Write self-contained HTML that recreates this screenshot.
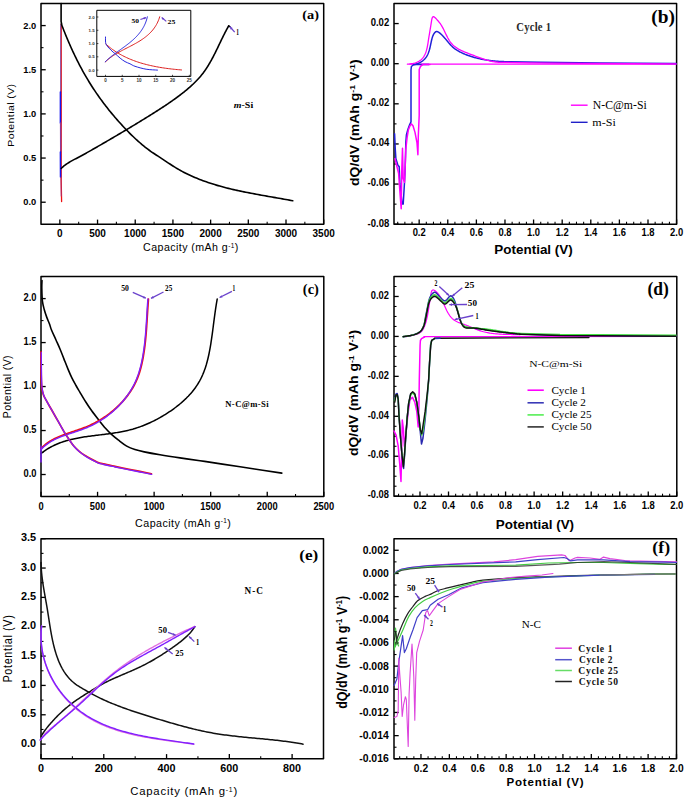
<!DOCTYPE html>
<html><head><meta charset="utf-8"><style>
html,body{margin:0;padding:0;background:#fff;}
svg{display:block;}
</style></head><body>
<svg width="685" height="798" viewBox="0 0 685 798">
<rect width="685" height="798" fill="#fff"/>
<rect x="41" y="3.5" width="282.7" height="220.8" fill="none" stroke="#000" stroke-width="1.5" stroke-linejoin="round"/>
<line x1="78.69" y1="224.3" x2="78.69" y2="221.8" stroke="#000" stroke-width="1.08"/>
<line x1="116.39" y1="224.3" x2="116.39" y2="221.8" stroke="#000" stroke-width="1.08"/>
<line x1="154.08" y1="224.3" x2="154.08" y2="221.8" stroke="#000" stroke-width="1.08"/>
<line x1="191.77" y1="224.3" x2="191.77" y2="221.8" stroke="#000" stroke-width="1.08"/>
<line x1="229.47" y1="224.3" x2="229.47" y2="221.8" stroke="#000" stroke-width="1.08"/>
<line x1="267.16" y1="224.3" x2="267.16" y2="221.8" stroke="#000" stroke-width="1.08"/>
<line x1="304.85" y1="224.3" x2="304.85" y2="221.8" stroke="#000" stroke-width="1.08"/>
<line x1="41" y1="180.14" x2="43.5" y2="180.14" stroke="#000" stroke-width="1.08"/>
<line x1="41" y1="135.98" x2="43.5" y2="135.98" stroke="#000" stroke-width="1.08"/>
<line x1="41" y1="91.82" x2="43.5" y2="91.82" stroke="#000" stroke-width="1.08"/>
<line x1="41" y1="47.66" x2="43.5" y2="47.66" stroke="#000" stroke-width="1.08"/>
<line x1="41" y1="3.5" x2="43.5" y2="3.5" stroke="#000" stroke-width="1.08"/>
<line x1="59.85" y1="224.3" x2="59.85" y2="219.6" stroke="#000" stroke-width="1.32"/>
<text x="59.85" y="233.2" font-family="'Liberation Sans', sans-serif" font-size="10" font-weight="bold" text-anchor="middle" dominant-baseline="central" fill="#000">0</text>
<line x1="97.54" y1="224.3" x2="97.54" y2="219.6" stroke="#000" stroke-width="1.32"/>
<text x="97.54" y="233.2" font-family="'Liberation Sans', sans-serif" font-size="10" font-weight="bold" text-anchor="middle" dominant-baseline="central" fill="#000">500</text>
<line x1="135.23" y1="224.3" x2="135.23" y2="219.6" stroke="#000" stroke-width="1.32"/>
<text x="135.23" y="233.2" font-family="'Liberation Sans', sans-serif" font-size="10" font-weight="bold" text-anchor="middle" dominant-baseline="central" fill="#000">1000</text>
<line x1="172.93" y1="224.3" x2="172.93" y2="219.6" stroke="#000" stroke-width="1.32"/>
<text x="172.93" y="233.2" font-family="'Liberation Sans', sans-serif" font-size="10" font-weight="bold" text-anchor="middle" dominant-baseline="central" fill="#000">1500</text>
<line x1="210.62" y1="224.3" x2="210.62" y2="219.6" stroke="#000" stroke-width="1.32"/>
<text x="210.62" y="233.2" font-family="'Liberation Sans', sans-serif" font-size="10" font-weight="bold" text-anchor="middle" dominant-baseline="central" fill="#000">2000</text>
<line x1="248.31" y1="224.3" x2="248.31" y2="219.6" stroke="#000" stroke-width="1.32"/>
<text x="248.31" y="233.2" font-family="'Liberation Sans', sans-serif" font-size="10" font-weight="bold" text-anchor="middle" dominant-baseline="central" fill="#000">2500</text>
<line x1="286.01" y1="224.3" x2="286.01" y2="219.6" stroke="#000" stroke-width="1.32"/>
<text x="286.01" y="233.2" font-family="'Liberation Sans', sans-serif" font-size="10" font-weight="bold" text-anchor="middle" dominant-baseline="central" fill="#000">3000</text>
<line x1="323.7" y1="224.3" x2="323.7" y2="219.6" stroke="#000" stroke-width="1.32"/>
<text x="323.7" y="233.2" font-family="'Liberation Sans', sans-serif" font-size="10" font-weight="bold" text-anchor="middle" dominant-baseline="central" fill="#000">3500</text>
<line x1="41" y1="202.22" x2="45.7" y2="202.22" stroke="#000" stroke-width="1.32"/>
<line x1="41" y1="158.06" x2="45.7" y2="158.06" stroke="#000" stroke-width="1.32"/>
<line x1="41" y1="113.9" x2="45.7" y2="113.9" stroke="#000" stroke-width="1.32"/>
<line x1="41" y1="69.74" x2="45.7" y2="69.74" stroke="#000" stroke-width="1.32"/>
<line x1="41" y1="25.58" x2="45.7" y2="25.58" stroke="#000" stroke-width="1.32"/>
<text x="36.2" y="201.92" font-family="'Liberation Sans', sans-serif" font-size="9.6" font-weight="bold" text-anchor="end" dominant-baseline="central" fill="#000" transform="translate(36.2 201.92) scale(0.97 1) translate(-36.2 -201.92)">0.0</text>
<text x="36.2" y="157.76" font-family="'Liberation Sans', sans-serif" font-size="9.6" font-weight="bold" text-anchor="end" dominant-baseline="central" fill="#000" transform="translate(36.2 157.76) scale(0.97 1) translate(-36.2 -157.76)">0.5</text>
<text x="36.2" y="113.6" font-family="'Liberation Sans', sans-serif" font-size="9.6" font-weight="bold" text-anchor="end" dominant-baseline="central" fill="#000" transform="translate(36.2 113.6) scale(0.97 1) translate(-36.2 -113.6)">1.0</text>
<text x="36.2" y="69.44" font-family="'Liberation Sans', sans-serif" font-size="9.6" font-weight="bold" text-anchor="end" dominant-baseline="central" fill="#000" transform="translate(36.2 69.44) scale(0.97 1) translate(-36.2 -69.44)">1.5</text>
<text x="36.2" y="25.28" font-family="'Liberation Sans', sans-serif" font-size="9.6" font-weight="bold" text-anchor="end" dominant-baseline="central" fill="#000" transform="translate(36.2 25.28) scale(0.97 1) translate(-36.2 -25.28)">2.0</text>
<text transform="translate(143.07 251.3) scale(0.9726 1)" font-family="'Liberation Sans', sans-serif" font-size="10.957" font-weight="normal" font-style="normal" fill="#000" letter-spacing="0.04em">Capacity (mAh g<tspan font-size="60%" dy="-0.5em">-1</tspan><tspan dy="0.3em">)</tspan></text>
<text transform="translate(13.96 146.64) rotate(-90) scale(1.1341 1)" font-family="'Liberation Sans', sans-serif" font-size="9.255" font-weight="normal" font-style="normal" fill="#000" letter-spacing="0.04em">Potential (V)</text>
<text transform="translate(302.23 19.32) scale(1.0854 1)" font-family="'Liberation Serif', serif" font-size="13.222" font-weight="bold" font-style="normal" fill="#000">(a)</text>
<text transform="translate(233.8 107.52) scale(1.1036 1)" font-family="'Liberation Serif', serif" font-size="9.014" font-weight="bold" font-style="normal" fill="#000"><tspan font-style="italic">m</tspan>-Si</text>
<path d="M61.2 24.5 L61.2 120 L61.2 180 L61.6 201.6" stroke="#ee1111" stroke-width="1.3" fill="none" stroke-linejoin="round" stroke-linecap="round"/>
<path d="M60.7 25 L60.7 92" stroke="#5a3ab0" stroke-width="1" fill="none" stroke-linejoin="round" stroke-linecap="round" stroke-opacity="0.75"/>
<path d="M60.4 92 L60.4 123" stroke="#1818f0" stroke-width="1.5" fill="none" stroke-linejoin="round" stroke-linecap="round"/>
<path d="M60.6 123 L60.7 152" stroke="#8a3a9a" stroke-width="1.4" fill="none" stroke-linejoin="round" stroke-linecap="round"/>
<path d="M60.4 152 L60.5 177" stroke="#1818f0" stroke-width="1.5" fill="none" stroke-linejoin="round" stroke-linecap="round"/>
<path d="M60.9 177 L61.2 196" stroke="#9a3a8a" stroke-width="1" fill="none" stroke-linejoin="round" stroke-linecap="round" stroke-opacity="0.8"/>
<path d="M61.1 3.5 L61.1 21.4 L61.6 24" stroke="#000" stroke-width="1.6" fill="none" stroke-linejoin="round" stroke-linecap="round"/>
<path d="M61.39 24.08 L62.02 25.73 L62.66 27.38 L63.3 29.03 L63.95 30.67 L64.61 32.31 L65.27 33.95 L65.94 35.59 L66.62 37.23 L67.3 38.86 L67.99 40.49 L68.69 42.12 L69.4 43.74 L70.11 45.36 L70.83 46.98 L71.56 48.6 L72.29 50.21 L73.04 51.81 L73.79 53.42 L74.55 55.02 L75.32 56.61 L76.09 58.2 L76.88 59.79 L77.67 61.37 L78.48 62.95 L79.29 64.52 L80.11 66.09 L80.94 67.65 L81.78 69.21 L82.63 70.76 L83.49 72.31 L84.35 73.85 L85.23 75.39 L86.12 76.92 L87.02 78.45 L87.93 79.96 L88.84 81.48 L89.77 82.98 L90.71 84.48 L91.66 85.98 L92.62 87.46 L93.59 88.94 L94.56 90.42 L95.55 91.89 L96.55 93.35 L97.56 94.8 L98.57 96.25 L99.6 97.7 L100.63 99.13 L101.68 100.56 L102.73 101.98 L103.79 103.4 L104.87 104.81 L105.95 106.21 L107.04 107.61 L108.13 109 L109.24 110.38 L110.36 111.76 L111.48 113.13 L112.61 114.49 L113.75 115.84 L114.9 117.19 L116.06 118.53 L117.23 119.87 L118.4 121.19 L119.58 122.51 L120.77 123.83 L121.97 125.13 L123.17 126.43 L124.38 127.72 L125.6 129.01 L126.83 130.29 L128.07 131.56 L129.31 132.82 L130.56 134.07 L131.82 135.31 L133.09 136.54 L134.37 137.76 L135.66 138.97 L136.97 140.17 L138.28 141.35 L139.6 142.52 L140.94 143.68 L142.29 144.81 L143.65 145.94 L145.03 147.04 L146.42 148.13 L147.82 149.2 L149.24 150.25 L150.67 151.28 L152.12 152.29 L153.59 153.28 L155.07 154.25 L156.56 155.22 L158.05 156.18 L159.54 157.14 L161.03 158.11 L162.52 159.1 L164 160.08 L165.48 161.08 L166.96 162.07 L168.45 163.06 L169.93 164.04 L171.43 165.01 L172.92 165.97 L174.43 166.92 L175.94 167.84 L177.46 168.75 L178.99 169.63 L180.53 170.5 L182.09 171.34 L183.64 172.17 L185.21 172.97 L186.79 173.76 L188.37 174.53 L189.96 175.28 L191.56 176.01 L193.17 176.73 L194.79 177.43 L196.41 178.11 L198.04 178.77 L199.68 179.42 L201.32 180.05 L202.97 180.67 L204.63 181.27 L206.29 181.86 L207.96 182.44 L209.63 183 L211.31 183.54 L212.99 184.08 L214.68 184.6 L216.38 185.11 L218.08 185.61 L219.78 186.09 L221.49 186.56 L223.2 187.03 L224.92 187.48 L226.64 187.92 L228.36 188.36 L230.09 188.78 L231.82 189.19 L233.55 189.6 L235.28 189.99 L237.02 190.38 L238.76 190.76 L240.5 191.14 L242.25 191.5 L243.99 191.86 L245.74 192.22 L247.49 192.57 L249.24 192.91 L250.99 193.25 L252.74 193.58 L254.49 193.91 L256.24 194.23 L258 194.55 L259.75 194.87 L261.5 195.19 L263.25 195.5 L265 195.81 L266.75 196.12 L268.5 196.42 L270.25 196.73 L271.99 197.03 L273.74 197.34 L275.48 197.64 L277.22 197.95 L278.96 198.25 L280.7 198.56 L282.43 198.87 L284.16 199.18 L285.89 199.49 L287.61 199.8 L289.33 200.12 L291.05 200.44 L292.76 200.76" stroke="#000" stroke-width="1.6" fill="none" stroke-linejoin="round" stroke-linecap="round"/>
<path d="M61.18 168.48 L61.91 167.75 L62.67 167.05 L63.45 166.37 L64.25 165.72 L65.07 165.09 L65.9 164.48 L66.75 163.89 L67.62 163.32 L68.5 162.76 L69.38 162.22 L70.28 161.68 L71.19 161.16 L72.11 160.65 L73.03 160.15 L73.96 159.65 L74.89 159.16 L75.83 158.67 L76.77 158.18 L77.7 157.69 L78.63 157.19 L79.57 156.7 L80.5 156.2 L81.43 155.7 L82.35 155.2 L83.28 154.7 L84.2 154.19 L85.12 153.68 L86.04 153.18 L86.96 152.66 L87.88 152.15 L88.8 151.64 L89.72 151.12 L90.63 150.6 L91.54 150.09 L92.46 149.57 L93.37 149.05 L94.28 148.52 L95.19 148 L96.1 147.48 L97.01 146.95 L97.92 146.43 L98.83 145.9 L99.74 145.38 L100.65 144.85 L101.56 144.33 L102.47 143.8 L103.37 143.27 L104.28 142.75 L105.19 142.22 L106.1 141.69 L107 141.16 L107.91 140.64 L108.82 140.11 L109.72 139.58 L110.63 139.05 L111.54 138.52 L112.44 137.99 L113.35 137.46 L114.25 136.93 L115.16 136.39 L116.06 135.86 L116.97 135.33 L117.87 134.8 L118.78 134.26 L119.68 133.73 L120.58 133.19 L121.49 132.66 L122.39 132.12 L123.29 131.59 L124.19 131.05 L125.09 130.51 L126 129.98 L126.9 129.44 L127.8 128.9 L128.7 128.36 L129.6 127.82 L130.5 127.28 L131.4 126.74 L132.3 126.19 L133.2 125.65 L134.09 125.11 L134.99 124.56 L135.89 124.02 L136.79 123.47 L137.68 122.93 L138.58 122.38 L139.48 121.83 L140.37 121.29 L141.27 120.74 L142.16 120.19 L143.06 119.64 L143.95 119.08 L144.85 118.53 L145.74 117.98 L146.63 117.43 L147.52 116.87 L148.42 116.32 L149.31 115.76 L150.2 115.2 L151.09 114.65 L151.98 114.09 L152.87 113.53 L153.76 112.97 L154.65 112.41 L155.54 111.84 L156.42 111.28 L157.31 110.71 L158.2 110.15 L159.08 109.58 L159.96 109.01 L160.85 108.44 L161.73 107.87 L162.61 107.29 L163.49 106.71 L164.36 106.14 L165.24 105.55 L166.11 104.97 L166.99 104.38 L167.86 103.8 L168.73 103.2 L169.59 102.61 L170.46 102.01 L171.32 101.41 L172.18 100.81 L173.04 100.21 L173.89 99.6 L174.75 98.99 L175.6 98.37 L176.45 97.75 L177.29 97.13 L178.14 96.5 L178.98 95.87 L179.81 95.24 L180.65 94.6 L181.48 93.96 L182.31 93.31 L183.13 92.66 L183.96 92.01 L184.77 91.35 L185.59 90.68 L186.4 90.02 L187.21 89.34 L188.01 88.66 L188.81 87.98 L189.6 87.29 L190.39 86.59 L191.17 85.89 L191.94 85.19 L192.71 84.47 L193.47 83.75 L194.23 83.02 L194.98 82.29 L195.71 81.55 L196.45 80.8 L197.17 80.05 L197.88 79.28 L198.59 78.51 L199.28 77.74 L199.97 76.95 L200.64 76.15 L201.31 75.35 L201.96 74.54 L202.6 73.72 L203.24 72.89 L203.86 72.05 L204.47 71.21 L205.07 70.35 L205.66 69.49 L206.25 68.62 L206.82 67.75 L207.39 66.87 L207.94 65.98 L208.49 65.09 L209.03 64.19 L209.57 63.28 L210.1 62.37 L210.62 61.46 L211.13 60.54 L211.64 59.61 L212.14 58.68 L212.64 57.75 L213.13 56.82 L213.62 55.88 L214.1 54.94 L214.58 53.99 L215.06 53.05 L215.53 52.1 L216 51.15 L216.47 50.2 L216.93 49.24 L217.4 48.29 L217.86 47.34 L218.31 46.38 L218.77 45.43 L219.23 44.47 L219.69 43.52 L220.14 42.56 L220.6 41.61 L221.06 40.66 L221.51 39.71 L221.97 38.76 L222.43 37.82 L222.9 36.87 L223.36 35.93 L223.83 35 L224.3 34.06 L224.77 33.13 L225.24 32.21 L225.72 31.28 L226.21 30.37 L226.7 29.45 L227.19 28.55 L227.69 27.64 L228.19 26.75 L228.7 25.86" stroke="#000" stroke-width="1.6" fill="none" stroke-linejoin="round" stroke-linecap="round"/>
<path d="M228.7 25.8 L230.3 27" stroke="#000" stroke-width="1.3" fill="none" stroke-linejoin="round" stroke-linecap="round"/>
<line x1="234.7" y1="32.1" x2="229.9" y2="26.8" stroke="#6a42cc" stroke-width="1.3"/>
<path d="M229.9 26.8 L232.68 27.93 L230.75 29.68Z" fill="#6a42cc"/>
<text transform="translate(236.17 34.6) scale(0.7281 1)" font-family="'Liberation Serif', serif" font-size="7.424" font-weight="bold" font-style="normal" fill="#000">1</text>
<rect x="96.8" y="10.3" width="94" height="66.1" fill="none" stroke="#000" stroke-width="1" stroke-linejoin="round"/>
<line x1="105.5" y1="76.4" x2="105.5" y2="74.8" stroke="#000" stroke-width="0.7"/>
<text x="105.5" y="80.2" font-family="'Liberation Sans', sans-serif" font-size="4.6" font-weight="bold" text-anchor="middle" dominant-baseline="central" fill="#333">0</text>
<line x1="122.26" y1="76.4" x2="122.26" y2="74.8" stroke="#000" stroke-width="0.7"/>
<text x="122.26" y="80.2" font-family="'Liberation Sans', sans-serif" font-size="4.6" font-weight="bold" text-anchor="middle" dominant-baseline="central" fill="#333">5</text>
<line x1="139.02" y1="76.4" x2="139.02" y2="74.8" stroke="#000" stroke-width="0.7"/>
<text x="139.02" y="80.2" font-family="'Liberation Sans', sans-serif" font-size="4.6" font-weight="bold" text-anchor="middle" dominant-baseline="central" fill="#333">10</text>
<line x1="155.78" y1="76.4" x2="155.78" y2="74.8" stroke="#000" stroke-width="0.7"/>
<text x="155.78" y="80.2" font-family="'Liberation Sans', sans-serif" font-size="4.6" font-weight="bold" text-anchor="middle" dominant-baseline="central" fill="#333">15</text>
<line x1="172.54" y1="76.4" x2="172.54" y2="74.8" stroke="#000" stroke-width="0.7"/>
<text x="172.54" y="80.2" font-family="'Liberation Sans', sans-serif" font-size="4.6" font-weight="bold" text-anchor="middle" dominant-baseline="central" fill="#333">20</text>
<line x1="189.3" y1="76.4" x2="189.3" y2="74.8" stroke="#000" stroke-width="0.7"/>
<text x="189.3" y="80.2" font-family="'Liberation Sans', sans-serif" font-size="4.6" font-weight="bold" text-anchor="middle" dominant-baseline="central" fill="#333">25</text>
<line x1="96.8" y1="70.1" x2="98.4" y2="70.1" stroke="#000" stroke-width="0.7"/>
<text x="94.6" y="70.1" font-family="'Liberation Sans', sans-serif" font-size="4.4" font-weight="bold" text-anchor="end" dominant-baseline="central" fill="#333">0.0</text>
<line x1="96.8" y1="56.82" x2="98.4" y2="56.82" stroke="#000" stroke-width="0.7"/>
<text x="94.6" y="56.82" font-family="'Liberation Sans', sans-serif" font-size="4.4" font-weight="bold" text-anchor="end" dominant-baseline="central" fill="#333">0.5</text>
<line x1="96.8" y1="43.55" x2="98.4" y2="43.55" stroke="#000" stroke-width="0.7"/>
<text x="94.6" y="43.55" font-family="'Liberation Sans', sans-serif" font-size="4.4" font-weight="bold" text-anchor="end" dominant-baseline="central" fill="#333">1.0</text>
<line x1="96.8" y1="30.27" x2="98.4" y2="30.27" stroke="#000" stroke-width="0.7"/>
<text x="94.6" y="30.27" font-family="'Liberation Sans', sans-serif" font-size="4.4" font-weight="bold" text-anchor="end" dominant-baseline="central" fill="#333">1.5</text>
<line x1="96.8" y1="17" x2="98.4" y2="17" stroke="#000" stroke-width="0.7"/>
<text x="94.6" y="17" font-family="'Liberation Sans', sans-serif" font-size="4.4" font-weight="bold" text-anchor="end" dominant-baseline="central" fill="#333">2.0</text>
<path d="M105.71 43.9 L106.82 44.9 L107.96 45.88 L109.11 46.83 L110.27 47.76 L111.45 48.66 L112.65 49.54 L113.86 50.39 L115.09 51.22 L116.33 52.03 L117.58 52.81 L118.85 53.57 L120.13 54.3 L121.42 55.02 L122.73 55.71 L124.04 56.38 L125.37 57.03 L126.71 57.66 L128.06 58.27 L129.41 58.86 L130.78 59.43 L132.16 59.98 L133.55 60.52 L134.94 61.03 L136.34 61.52 L137.75 62 L139.17 62.46 L140.59 62.91 L142.02 63.33 L143.46 63.74 L144.9 64.14 L146.35 64.52 L147.8 64.88 L149.25 65.23 L150.71 65.57 L152.18 65.89 L153.64 66.2 L155.11 66.49 L156.58 66.78 L158.06 67.04 L159.53 67.3 L161.01 67.55 L162.48 67.78 L163.96 68 L165.43 68.22 L166.91 68.42 L168.39 68.61 L169.86 68.79 L171.33 68.97 L172.8 69.13 L174.27 69.29 L175.73 69.44 L177.19 69.58 L178.65 69.71 L180.1 69.84 L181.55 69.96" stroke="#dd2020" stroke-width="1" fill="none" stroke-linejoin="round" stroke-linecap="round"/>
<path d="M105.38 61.93 L106.3 61.04 L107.25 60.18 L108.22 59.34 L109.22 58.54 L110.24 57.75 L111.28 56.99 L112.33 56.25 L113.41 55.53 L114.5 54.82 L115.61 54.13 L116.73 53.46 L117.87 52.8 L119.01 52.15 L120.17 51.52 L121.33 50.89 L122.51 50.27 L123.68 49.65 L124.86 49.04 L126.05 48.43 L127.23 47.82 L128.42 47.22 L129.61 46.61 L130.79 45.99 L131.97 45.38 L133.14 44.75 L134.31 44.12 L135.47 43.48 L136.62 42.83 L137.76 42.17 L138.89 41.49 L140.01 40.8 L141.11 40.1 L142.19 39.37 L143.26 38.63 L144.31 37.87 L145.35 37.09 L146.36 36.28 L147.35 35.46 L148.32 34.61 L149.26 33.73 L150.18 32.83 L151.07 31.9 L151.94 30.94 L152.77 29.95 L153.58 28.93 L154.35 27.88 L155.09 26.79 L155.8 25.67 L156.47 24.52 L157.11 23.32 L157.71 22.09 L158.27 20.82 L158.79 19.51 L159.26 18.16 L159.7 16.76" stroke="#dd2020" stroke-width="1" fill="none" stroke-linejoin="round" stroke-linecap="round"/>
<path d="M105.5 37 C105.5 37.67 105.45 39.95 105.5 41 C105.55 42.05 105.55 42.5 105.8 43.3 C106.05 44.1 106.47 45 107 45.8 C107.53 46.6 107.98 47.05 109 48.1 C110.02 49.15 112 51.12 113.1 52.1 C114.2 53.08 114.43 53 115.6 54 C116.77 55 118.53 56.83 120.1 58.1 C121.67 59.37 123.35 60.65 125 61.6 C126.65 62.55 128.33 63.02 130 63.8 C131.67 64.58 132.32 65.4 135 66.3 C137.68 67.2 142.35 68.57 146.1 69.2 C149.85 69.83 155.6 69.95 157.5 70.1" stroke="#2828dd" stroke-width="1" fill="none" stroke-linejoin="round" stroke-linecap="round"/>
<path d="M105.18 61.85 L105.86 61.17 L106.56 60.51 L107.27 59.85 L107.99 59.2 L108.72 58.56 L109.46 57.92 L110.22 57.3 L110.98 56.67 L111.75 56.06 L112.53 55.45 L113.32 54.84 L114.11 54.24 L114.91 53.64 L115.71 53.04 L116.52 52.44 L117.33 51.85 L118.15 51.26 L118.97 50.67 L119.79 50.08 L120.61 49.49 L121.43 48.9 L122.25 48.31 L123.07 47.71 L123.89 47.12 L124.71 46.52 L125.52 45.91 L126.33 45.31 L127.13 44.69 L127.93 44.08 L128.73 43.46 L129.51 42.83 L130.29 42.19 L131.06 41.55 L131.83 40.9 L132.58 40.25 L133.32 39.58 L134.06 38.9 L134.78 38.22 L135.49 37.53 L136.18 36.82 L136.86 36.1 L137.53 35.38 L138.19 34.64 L138.83 33.89 L139.45 33.12 L140.06 32.35 L140.65 31.56 L141.23 30.75 L141.78 29.94 L142.32 29.11 L142.84 28.26 L143.33 27.4 L143.81 26.52 L144.27 25.63 L144.7 24.72 L145.12 23.8 L145.51 22.85 L145.87 21.89 L146.22 20.91 L146.54 19.92 L146.83 18.9 L147.1 17.87 L147.34 16.81" stroke="#2828dd" stroke-width="1" fill="none" stroke-linejoin="round" stroke-linecap="round"/>
<text transform="translate(131.5 23.06) scale(1.0924 1)" font-family="'Liberation Serif', serif" font-size="6.866" font-weight="bold" font-style="normal" fill="#000">50</text>
<text transform="translate(167.49 23.73) scale(1.1229 1)" font-family="'Liberation Serif', serif" font-size="6.970" font-weight="bold" font-style="normal" fill="#000">25</text>
<line x1="140.4" y1="19.5" x2="146.1" y2="17.6" stroke="#6a42cc" stroke-width="1.2"/>
<path d="M146.1 17.6 L144.24 19.41 L143.52 17.27Z" fill="#6a42cc"/>
<line x1="166.3" y1="21.4" x2="161.7" y2="17.5" stroke="#6a42cc" stroke-width="1.2"/>
<path d="M161.7 17.5 L164.22 18.15 L162.75 19.88Z" fill="#6a42cc"/>
<rect x="394" y="3.5" width="282.6" height="220.7" fill="none" stroke="#000" stroke-width="1.5" stroke-linejoin="round"/>
<line x1="397.72" y1="224.2" x2="397.72" y2="221.7" stroke="#000" stroke-width="1.08"/>
<line x1="404.87" y1="224.2" x2="404.87" y2="221.7" stroke="#000" stroke-width="1.08"/>
<line x1="412.02" y1="224.2" x2="412.02" y2="221.7" stroke="#000" stroke-width="1.08"/>
<line x1="426.32" y1="224.2" x2="426.32" y2="221.7" stroke="#000" stroke-width="1.08"/>
<line x1="433.47" y1="224.2" x2="433.47" y2="221.7" stroke="#000" stroke-width="1.08"/>
<line x1="440.62" y1="224.2" x2="440.62" y2="221.7" stroke="#000" stroke-width="1.08"/>
<line x1="454.92" y1="224.2" x2="454.92" y2="221.7" stroke="#000" stroke-width="1.08"/>
<line x1="462.08" y1="224.2" x2="462.08" y2="221.7" stroke="#000" stroke-width="1.08"/>
<line x1="469.23" y1="224.2" x2="469.23" y2="221.7" stroke="#000" stroke-width="1.08"/>
<line x1="483.53" y1="224.2" x2="483.53" y2="221.7" stroke="#000" stroke-width="1.08"/>
<line x1="490.68" y1="224.2" x2="490.68" y2="221.7" stroke="#000" stroke-width="1.08"/>
<line x1="497.83" y1="224.2" x2="497.83" y2="221.7" stroke="#000" stroke-width="1.08"/>
<line x1="512.13" y1="224.2" x2="512.13" y2="221.7" stroke="#000" stroke-width="1.08"/>
<line x1="519.28" y1="224.2" x2="519.28" y2="221.7" stroke="#000" stroke-width="1.08"/>
<line x1="526.43" y1="224.2" x2="526.43" y2="221.7" stroke="#000" stroke-width="1.08"/>
<line x1="540.73" y1="224.2" x2="540.73" y2="221.7" stroke="#000" stroke-width="1.08"/>
<line x1="547.89" y1="224.2" x2="547.89" y2="221.7" stroke="#000" stroke-width="1.08"/>
<line x1="555.04" y1="224.2" x2="555.04" y2="221.7" stroke="#000" stroke-width="1.08"/>
<line x1="569.34" y1="224.2" x2="569.34" y2="221.7" stroke="#000" stroke-width="1.08"/>
<line x1="576.49" y1="224.2" x2="576.49" y2="221.7" stroke="#000" stroke-width="1.08"/>
<line x1="583.64" y1="224.2" x2="583.64" y2="221.7" stroke="#000" stroke-width="1.08"/>
<line x1="597.94" y1="224.2" x2="597.94" y2="221.7" stroke="#000" stroke-width="1.08"/>
<line x1="605.09" y1="224.2" x2="605.09" y2="221.7" stroke="#000" stroke-width="1.08"/>
<line x1="612.24" y1="224.2" x2="612.24" y2="221.7" stroke="#000" stroke-width="1.08"/>
<line x1="626.54" y1="224.2" x2="626.54" y2="221.7" stroke="#000" stroke-width="1.08"/>
<line x1="633.7" y1="224.2" x2="633.7" y2="221.7" stroke="#000" stroke-width="1.08"/>
<line x1="640.85" y1="224.2" x2="640.85" y2="221.7" stroke="#000" stroke-width="1.08"/>
<line x1="655.15" y1="224.2" x2="655.15" y2="221.7" stroke="#000" stroke-width="1.08"/>
<line x1="662.3" y1="224.2" x2="662.3" y2="221.7" stroke="#000" stroke-width="1.08"/>
<line x1="669.45" y1="224.2" x2="669.45" y2="221.7" stroke="#000" stroke-width="1.08"/>
<line x1="394" y1="204.14" x2="396.5" y2="204.14" stroke="#000" stroke-width="1.08"/>
<line x1="394" y1="164.01" x2="396.5" y2="164.01" stroke="#000" stroke-width="1.08"/>
<line x1="394" y1="123.88" x2="396.5" y2="123.88" stroke="#000" stroke-width="1.08"/>
<line x1="394" y1="83.75" x2="396.5" y2="83.75" stroke="#000" stroke-width="1.08"/>
<line x1="394" y1="43.63" x2="396.5" y2="43.63" stroke="#000" stroke-width="1.08"/>
<line x1="419.17" y1="224.2" x2="419.17" y2="219.5" stroke="#000" stroke-width="1.32"/>
<text x="419.17" y="232.6" font-family="'Liberation Sans', sans-serif" font-size="10.8" font-weight="bold" text-anchor="middle" dominant-baseline="central" fill="#000" transform="translate(419.17 232.6) scale(0.87 1) translate(-419.17 -232.6)">0.2</text>
<line x1="447.77" y1="224.2" x2="447.77" y2="219.5" stroke="#000" stroke-width="1.32"/>
<text x="447.77" y="232.6" font-family="'Liberation Sans', sans-serif" font-size="10.8" font-weight="bold" text-anchor="middle" dominant-baseline="central" fill="#000" transform="translate(447.77 232.6) scale(0.87 1) translate(-447.77 -232.6)">0.4</text>
<line x1="476.38" y1="224.2" x2="476.38" y2="219.5" stroke="#000" stroke-width="1.32"/>
<text x="476.38" y="232.6" font-family="'Liberation Sans', sans-serif" font-size="10.8" font-weight="bold" text-anchor="middle" dominant-baseline="central" fill="#000" transform="translate(476.38 232.6) scale(0.87 1) translate(-476.38 -232.6)">0.6</text>
<line x1="504.98" y1="224.2" x2="504.98" y2="219.5" stroke="#000" stroke-width="1.32"/>
<text x="504.98" y="232.6" font-family="'Liberation Sans', sans-serif" font-size="10.8" font-weight="bold" text-anchor="middle" dominant-baseline="central" fill="#000" transform="translate(504.98 232.6) scale(0.87 1) translate(-504.98 -232.6)">0.8</text>
<line x1="533.58" y1="224.2" x2="533.58" y2="219.5" stroke="#000" stroke-width="1.32"/>
<text x="533.58" y="232.6" font-family="'Liberation Sans', sans-serif" font-size="10.8" font-weight="bold" text-anchor="middle" dominant-baseline="central" fill="#000" transform="translate(533.58 232.6) scale(0.87 1) translate(-533.58 -232.6)">1.0</text>
<line x1="562.19" y1="224.2" x2="562.19" y2="219.5" stroke="#000" stroke-width="1.32"/>
<text x="562.19" y="232.6" font-family="'Liberation Sans', sans-serif" font-size="10.8" font-weight="bold" text-anchor="middle" dominant-baseline="central" fill="#000" transform="translate(562.19 232.6) scale(0.87 1) translate(-562.19 -232.6)">1.2</text>
<line x1="590.79" y1="224.2" x2="590.79" y2="219.5" stroke="#000" stroke-width="1.32"/>
<text x="590.79" y="232.6" font-family="'Liberation Sans', sans-serif" font-size="10.8" font-weight="bold" text-anchor="middle" dominant-baseline="central" fill="#000" transform="translate(590.79 232.6) scale(0.87 1) translate(-590.79 -232.6)">1.4</text>
<line x1="619.39" y1="224.2" x2="619.39" y2="219.5" stroke="#000" stroke-width="1.32"/>
<text x="619.39" y="232.6" font-family="'Liberation Sans', sans-serif" font-size="10.8" font-weight="bold" text-anchor="middle" dominant-baseline="central" fill="#000" transform="translate(619.39 232.6) scale(0.87 1) translate(-619.39 -232.6)">1.6</text>
<line x1="648" y1="224.2" x2="648" y2="219.5" stroke="#000" stroke-width="1.32"/>
<text x="648" y="232.6" font-family="'Liberation Sans', sans-serif" font-size="10.8" font-weight="bold" text-anchor="middle" dominant-baseline="central" fill="#000" transform="translate(648 232.6) scale(0.87 1) translate(-648 -232.6)">1.8</text>
<line x1="676.6" y1="224.2" x2="676.6" y2="219.5" stroke="#000" stroke-width="1.32"/>
<text x="676.6" y="232.6" font-family="'Liberation Sans', sans-serif" font-size="10.8" font-weight="bold" text-anchor="middle" dominant-baseline="central" fill="#000" transform="translate(676.6 232.6) scale(0.87 1) translate(-676.6 -232.6)">2.0</text>
<line x1="394" y1="224.2" x2="398.7" y2="224.2" stroke="#000" stroke-width="1.32"/>
<line x1="394" y1="184.07" x2="398.7" y2="184.07" stroke="#000" stroke-width="1.32"/>
<line x1="394" y1="143.95" x2="398.7" y2="143.95" stroke="#000" stroke-width="1.32"/>
<line x1="394" y1="103.82" x2="398.7" y2="103.82" stroke="#000" stroke-width="1.32"/>
<line x1="394" y1="63.69" x2="398.7" y2="63.69" stroke="#000" stroke-width="1.32"/>
<line x1="394" y1="23.56" x2="398.7" y2="23.56" stroke="#000" stroke-width="1.32"/>
<text x="389.2" y="222.9" font-family="'Liberation Sans', sans-serif" font-size="10.8" font-weight="bold" text-anchor="end" dominant-baseline="central" fill="#000" transform="translate(389.2 222.9) scale(0.88 1) translate(-389.2 -222.9)">-0.08</text>
<text x="389.2" y="182.77" font-family="'Liberation Sans', sans-serif" font-size="10.8" font-weight="bold" text-anchor="end" dominant-baseline="central" fill="#000" transform="translate(389.2 182.77) scale(0.88 1) translate(-389.2 -182.77)">-0.06</text>
<text x="389.2" y="142.65" font-family="'Liberation Sans', sans-serif" font-size="10.8" font-weight="bold" text-anchor="end" dominant-baseline="central" fill="#000" transform="translate(389.2 142.65) scale(0.88 1) translate(-389.2 -142.65)">-0.04</text>
<text x="389.2" y="102.52" font-family="'Liberation Sans', sans-serif" font-size="10.8" font-weight="bold" text-anchor="end" dominant-baseline="central" fill="#000" transform="translate(389.2 102.52) scale(0.88 1) translate(-389.2 -102.52)">-0.02</text>
<text x="389.2" y="62.39" font-family="'Liberation Sans', sans-serif" font-size="10.8" font-weight="bold" text-anchor="end" dominant-baseline="central" fill="#000" transform="translate(389.2 62.39) scale(0.88 1) translate(-389.2 -62.39)">0.00</text>
<text x="389.2" y="22.26" font-family="'Liberation Sans', sans-serif" font-size="10.8" font-weight="bold" text-anchor="end" dominant-baseline="central" fill="#000" transform="translate(389.2 22.26) scale(0.88 1) translate(-389.2 -22.26)">0.02</text>
<text transform="translate(494.36 253.54) scale(0.9877 1)" font-family="'Liberation Sans', sans-serif" font-size="13.617" font-weight="bold" font-style="normal" fill="#000">Potential (V)</text>
<text transform="translate(359.05 186.06) rotate(-90) scale(1.0704 1)" font-family="'Liberation Sans', sans-serif" font-size="13.085" font-weight="bold" font-style="normal" fill="#000">dQ/dV (mAh g<tspan font-size="62%" dy="-0.5em">-1</tspan><tspan dy="0.31em"> V</tspan><tspan font-size="62%" dy="-0.5em">-1</tspan><tspan dy="0.31em">)</tspan></text>
<text transform="translate(651.32 22.96) scale(1.0085 1)" font-family="'Liberation Serif', serif" font-size="19.222" font-weight="bold" font-style="normal" fill="#000">(b)</text>
<text transform="translate(516.37 31.17) scale(0.9202 1)" font-family="'Liberation Serif', serif" font-size="11.556" font-weight="bold" font-style="normal" fill="#2a2a2a" letter-spacing="0.02em">Cycle 1</text>
<line x1="570.9" y1="105.2" x2="587.6" y2="105.2" stroke="#ff00ff" stroke-width="1.4"/>
<line x1="570.9" y1="122.3" x2="587.6" y2="122.3" stroke="#2020c8" stroke-width="1.4"/>
<text transform="translate(592.85 109.09) scale(1.0183 1)" font-family="'Liberation Serif', serif" font-size="11.529" font-weight="normal" font-style="normal" fill="#000">N-C@m-Si</text>
<text transform="translate(592.36 125.68) scale(1.0757 1)" font-family="'Liberation Serif', serif" font-size="11.194" font-weight="normal" font-style="normal" fill="#000">m-Si</text>
<path d="M407.4 64.2 L676 64.2" stroke="#ff00ff" stroke-width="1.3" fill="none" stroke-linejoin="round" stroke-linecap="round"/>
<path d="M394.6 133.7 L395.3 149.5 L395.9 158.7 L397.9 165.3 L399.2 166.6 L399.9 183.7 L401.2 195.5 L402.1 204.1 L403.2 204.1 L403.8 194.2 L404.5 182.4 L405.1 169.2 L405.5 156 L405.8 142.9 L406.4 135 L407.8 129.7 L409.7 124.5 L411 121.8 L411 70 L411.4 66.5 L413.2 65 L416 64.6 L428.8 64.6" stroke="#2020d8" stroke-width="1.5" fill="none" stroke-linejoin="round" stroke-linecap="round"/>
<path d="M395 158.7 L396.6 165.3 L398.6 173.2 L399.9 191.6 L401.2 208.7 L401.8 169.2 L402.5 148.2 L403.2 178.4 L404.5 182.4 L405.1 169.2 L405.8 149.5 L407.1 137.6 L408.4 129.7 L409.7 126.4 L411.3 123.8 L413 125.8 L415 132.4 L417 142.9 L417.9 154.7 L418.3 136.3 L419.2 115.3 L419.2 69.5 L420.5 66.4 L422.7 64.6 L430 64.4" stroke="#ff00ff" stroke-width="1.5" fill="none" stroke-linejoin="round" stroke-linecap="round"/>
<path d="M413.45 64.31 L414.28 64.25 L415.1 64.14 L415.9 64 L416.7 63.81 L417.47 63.58 L418.24 63.32 L418.98 63.02 L419.71 62.68 L420.42 62.32 L421.11 61.92 L421.77 61.48 L422.42 61.02 L423.04 60.54 L423.64 60.02 L424.21 59.49 L424.75 58.92 L425.26 58.34 L425.75 57.74 L426.2 57.12 L426.63 56.48 L427.02 55.82 L427.39 55.15 L427.73 54.46 L428.05 53.76 L428.35 53.04 L428.62 52.31 L428.88 51.57 L429.13 50.82 L429.35 50.05 L429.57 49.28 L429.77 48.49 L429.96 47.7 L430.15 46.89 L430.33 46.08 L430.5 45.27 L430.68 44.44 L430.85 43.62 L431.02 42.78 L431.2 41.95 L431.38 41.11 L431.57 40.28 L431.77 39.45 L431.98 38.64 L432.21 37.84 L432.46 37.07 L432.72 36.31 L433.01 35.58 L433.33 34.88 L433.68 34.22 L434.05 33.59 L434.46 33 L434.91 32.46 L435.4 31.99 L435.93 31.66 L436.53 31.54 L437.16 31.6 L437.83 31.83 L438.5 32.17 L439.17 32.59 L439.83 33.09 L440.48 33.64 L441.11 34.22 L441.73 34.81 L442.33 35.41 L442.91 36.02 L443.48 36.64 L444.04 37.26 L444.59 37.88 L445.13 38.51 L445.66 39.13 L446.18 39.76 L446.7 40.39 L447.21 41.01 L447.73 41.63 L448.24 42.25 L448.75 42.86 L449.27 43.46 L449.79 44.05 L450.32 44.63 L450.86 45.21 L451.4 45.77 L451.96 46.31 L452.52 46.85 L453.1 47.36 L453.7 47.86 L454.31 48.35 L454.93 48.82 L455.57 49.27 L456.21 49.71 L456.87 50.14 L457.54 50.55 L458.22 50.95 L458.91 51.34 L459.6 51.72 L460.3 52.09 L461.01 52.44 L461.73 52.79 L462.45 53.12 L463.17 53.45 L463.9 53.77 L464.64 54.08 L465.37 54.39 L466.11 54.68 L466.86 54.97 L467.6 55.25 L468.35 55.53 L469.1 55.79 L469.85 56.05 L470.61 56.31 L471.37 56.55 L472.13 56.79 L472.89 57.02 L473.66 57.25 L474.43 57.47 L475.2 57.68 L475.97 57.88 L476.74 58.08 L477.52 58.27 L478.3 58.46 L479.08 58.64 L479.86 58.81 L480.64 58.98 L481.43 59.14 L482.21 59.3 L483 59.45 L483.79 59.6 L484.58 59.74 L485.37 59.87 L486.16 60 L486.95 60.12 L487.75 60.24 L488.54 60.35 L489.34 60.46 L490.13 60.56 L490.93 60.66 L491.72 60.75 L492.52 60.84 L493.32 60.92 L494.12 61 L494.91 61.07 L495.71 61.14 L496.51 61.21 L497.31 61.27 L498.1 61.32 L498.9 61.38 L499.7 61.43 L500.49 61.47 L501.29 61.51 L502.08 61.55 L502.88 61.58 L503.67 61.61 L504.47 61.63 L505.26 61.66 L506.05 61.68 L506.84 61.69 L507.63 61.7 L508.42 61.71 L509.2 61.72 L509.99 61.72" stroke="#2020d8" stroke-width="1.5" fill="none" stroke-linejoin="round" stroke-linecap="round"/>
<path d="M510 61.7 L540 62.2 L600 63 L676 63.4" stroke="#2020d8" stroke-width="1.5" fill="none" stroke-linejoin="round" stroke-linecap="round"/>
<path d="M410 63.93 L410.74 63.84 L411.49 63.73 L412.26 63.6 L413.02 63.44 L413.79 63.26 L414.56 63.05 L415.32 62.82 L416.07 62.56 L416.81 62.27 L417.54 61.95 L418.25 61.61 L418.93 61.24 L419.59 60.83 L420.23 60.4 L420.83 59.94 L421.4 59.44 L421.93 58.92 L422.44 58.37 L422.92 57.79 L423.36 57.19 L423.78 56.57 L424.18 55.92 L424.54 55.26 L424.89 54.57 L425.21 53.87 L425.51 53.15 L425.79 52.42 L426.05 51.67 L426.29 50.92 L426.52 50.15 L426.73 49.37 L426.92 48.59 L427.11 47.8 L427.28 47.01 L427.44 46.21 L427.59 45.42 L427.73 44.62 L427.86 43.82 L427.99 43.03 L428.11 42.24 L428.23 41.46 L428.35 40.68 L428.47 39.92 L428.58 39.16 L428.7 38.41 L428.82 37.68 L428.93 36.94 L429.05 36.21 L429.17 35.49 L429.29 34.77 L429.41 34.04 L429.52 33.32 L429.65 32.6 L429.77 31.87 L429.89 31.13 L430.01 30.39 L430.14 29.64 L430.26 28.89 L430.39 28.12 L430.52 27.34 L430.65 26.54 L430.78 25.73 L430.91 24.9 L431.05 24.06 L431.19 23.19 L431.32 22.3 L431.47 21.4 L431.61 20.48 L431.77 19.58 L431.96 18.74 L432.17 18 L432.43 17.39 L432.74 16.94 L433.1 16.69 L433.54 16.67 L434.03 16.86 L434.57 17.22 L435.14 17.71 L435.72 18.29 L436.31 18.93 L436.88 19.57 L437.44 20.19 L437.97 20.79 L438.47 21.38 L438.96 21.97 L439.43 22.55 L439.88 23.14 L440.32 23.74 L440.75 24.35 L441.16 24.99 L441.56 25.64 L441.95 26.3 L442.34 26.98 L442.71 27.67 L443.08 28.37 L443.44 29.08 L443.8 29.79 L444.15 30.52 L444.5 31.24 L444.85 31.97 L445.2 32.71 L445.55 33.44 L445.9 34.17 L446.26 34.9 L446.61 35.62 L446.98 36.35 L447.35 37.06 L447.72 37.77 L448.11 38.47 L448.5 39.15 L448.91 39.83 L449.32 40.49 L449.75 41.14 L450.19 41.77 L450.65 42.38 L451.13 42.98 L451.61 43.56 L452.12 44.11 L452.64 44.65 L453.18 45.16 L453.74 45.66 L454.3 46.15 L454.89 46.61 L455.48 47.06 L456.09 47.49 L456.71 47.91 L457.34 48.32 L457.98 48.71 L458.63 49.09 L459.3 49.46 L459.97 49.82 L460.65 50.17 L461.33 50.5 L462.03 50.83 L462.73 51.15 L463.44 51.47 L464.15 51.77 L464.86 52.07 L465.59 52.37 L466.31 52.66 L467.04 52.94 L467.77 53.22 L468.5 53.5 L469.23 53.78 L469.97 54.06 L470.7 54.34 L471.43 54.61 L472.17 54.89 L472.9 55.17 L473.63 55.45 L474.35 55.72 L475.08 56 L475.81 56.28 L476.54 56.55 L477.26 56.83 L477.99 57.1 L478.72 57.37 L479.44 57.64 L480.17 57.9 L480.9 58.16 L481.62 58.41 L482.35 58.67 L483.08 58.91 L483.81 59.15 L484.54 59.39 L485.27 59.62 L486.01 59.84 L486.74 60.06 L487.48 60.27 L488.22 60.47 L488.96 60.67 L489.7 60.85 L490.45 61.03 L491.2 61.2 L491.95 61.36 L492.7 61.5 L493.45 61.64 L494.21 61.77 L494.97 61.89 L495.74 61.99 L496.51 62.09 L497.28 62.17 L498.06 62.24 L498.84 62.3 L499.62 62.34 L500.41 62.37 L501.2 62.38 L501.99 62.38 L502.8 62.37 L503.6 62.34 L504.41 62.29" stroke="#ff00ff" stroke-width="1.3" fill="none" stroke-linejoin="round" stroke-linecap="round"/>
<path d="M504.4 62.3 L530 62.8 L580 63.4 L676 63.8" stroke="#ff00ff" stroke-width="1.3" fill="none" stroke-linejoin="round" stroke-linecap="round"/>
<rect x="41" y="276.6" width="282.8" height="219.9" fill="none" stroke="#000" stroke-width="1.5" stroke-linejoin="round"/>
<line x1="69.28" y1="496.5" x2="69.28" y2="494" stroke="#000" stroke-width="1.08"/>
<line x1="125.84" y1="496.5" x2="125.84" y2="494" stroke="#000" stroke-width="1.08"/>
<line x1="182.4" y1="496.5" x2="182.4" y2="494" stroke="#000" stroke-width="1.08"/>
<line x1="238.96" y1="496.5" x2="238.96" y2="494" stroke="#000" stroke-width="1.08"/>
<line x1="295.52" y1="496.5" x2="295.52" y2="494" stroke="#000" stroke-width="1.08"/>
<line x1="41" y1="452.52" x2="43.5" y2="452.52" stroke="#000" stroke-width="1.08"/>
<line x1="41" y1="408.54" x2="43.5" y2="408.54" stroke="#000" stroke-width="1.08"/>
<line x1="41" y1="364.56" x2="43.5" y2="364.56" stroke="#000" stroke-width="1.08"/>
<line x1="41" y1="320.58" x2="43.5" y2="320.58" stroke="#000" stroke-width="1.08"/>
<line x1="41" y1="276.6" x2="43.5" y2="276.6" stroke="#000" stroke-width="1.08"/>
<line x1="41" y1="496.5" x2="41" y2="491.8" stroke="#000" stroke-width="1.32"/>
<text x="41" y="505.9" font-family="'Liberation Sans', sans-serif" font-size="10.6" font-weight="bold" text-anchor="middle" dominant-baseline="central" fill="#000" transform="translate(41 505.9) scale(0.88 1) translate(-41 -505.9)">0</text>
<line x1="97.56" y1="496.5" x2="97.56" y2="491.8" stroke="#000" stroke-width="1.32"/>
<text x="97.56" y="505.9" font-family="'Liberation Sans', sans-serif" font-size="10.6" font-weight="bold" text-anchor="middle" dominant-baseline="central" fill="#000" transform="translate(97.56 505.9) scale(0.88 1) translate(-97.56 -505.9)">500</text>
<line x1="154.12" y1="496.5" x2="154.12" y2="491.8" stroke="#000" stroke-width="1.32"/>
<text x="154.12" y="505.9" font-family="'Liberation Sans', sans-serif" font-size="10.6" font-weight="bold" text-anchor="middle" dominant-baseline="central" fill="#000" transform="translate(154.12 505.9) scale(0.88 1) translate(-154.12 -505.9)">1000</text>
<line x1="210.68" y1="496.5" x2="210.68" y2="491.8" stroke="#000" stroke-width="1.32"/>
<text x="210.68" y="505.9" font-family="'Liberation Sans', sans-serif" font-size="10.6" font-weight="bold" text-anchor="middle" dominant-baseline="central" fill="#000" transform="translate(210.68 505.9) scale(0.88 1) translate(-210.68 -505.9)">1500</text>
<line x1="267.24" y1="496.5" x2="267.24" y2="491.8" stroke="#000" stroke-width="1.32"/>
<text x="267.24" y="505.9" font-family="'Liberation Sans', sans-serif" font-size="10.6" font-weight="bold" text-anchor="middle" dominant-baseline="central" fill="#000" transform="translate(267.24 505.9) scale(0.88 1) translate(-267.24 -505.9)">2000</text>
<line x1="323.8" y1="496.5" x2="323.8" y2="491.8" stroke="#000" stroke-width="1.32"/>
<text x="323.8" y="505.9" font-family="'Liberation Sans', sans-serif" font-size="10.6" font-weight="bold" text-anchor="middle" dominant-baseline="central" fill="#000" transform="translate(323.8 505.9) scale(0.88 1) translate(-323.8 -505.9)">2500</text>
<line x1="41" y1="474.51" x2="45.7" y2="474.51" stroke="#000" stroke-width="1.32"/>
<line x1="41" y1="430.53" x2="45.7" y2="430.53" stroke="#000" stroke-width="1.32"/>
<line x1="41" y1="386.55" x2="45.7" y2="386.55" stroke="#000" stroke-width="1.32"/>
<line x1="41" y1="342.57" x2="45.7" y2="342.57" stroke="#000" stroke-width="1.32"/>
<line x1="41" y1="298.59" x2="45.7" y2="298.59" stroke="#000" stroke-width="1.32"/>
<text x="36.4" y="473.51" font-family="'Liberation Sans', sans-serif" font-size="10.6" font-weight="bold" text-anchor="end" dominant-baseline="central" fill="#000" transform="translate(36.4 473.51) scale(0.88 1) translate(-36.4 -473.51)">0.0</text>
<text x="36.4" y="429.53" font-family="'Liberation Sans', sans-serif" font-size="10.6" font-weight="bold" text-anchor="end" dominant-baseline="central" fill="#000" transform="translate(36.4 429.53) scale(0.88 1) translate(-36.4 -429.53)">0.5</text>
<text x="36.4" y="385.55" font-family="'Liberation Sans', sans-serif" font-size="10.6" font-weight="bold" text-anchor="end" dominant-baseline="central" fill="#000" transform="translate(36.4 385.55) scale(0.88 1) translate(-36.4 -385.55)">1.0</text>
<text x="36.4" y="341.57" font-family="'Liberation Sans', sans-serif" font-size="10.6" font-weight="bold" text-anchor="end" dominant-baseline="central" fill="#000" transform="translate(36.4 341.57) scale(0.88 1) translate(-36.4 -341.57)">1.5</text>
<text x="36.4" y="297.59" font-family="'Liberation Sans', sans-serif" font-size="10.6" font-weight="bold" text-anchor="end" dominant-baseline="central" fill="#000" transform="translate(36.4 297.59) scale(0.88 1) translate(-36.4 -297.59)">2.0</text>
<text transform="translate(135.06 526.72) scale(0.9894 1)" font-family="'Liberation Sans', sans-serif" font-size="10.851" font-weight="normal" font-style="normal" fill="#000" letter-spacing="0.04em">Capacity (mAh g<tspan font-size="60%" dy="-0.5em">-1</tspan><tspan dy="0.3em">)</tspan></text>
<text transform="translate(10.84 418.14) rotate(-90) scale(0.9769 1)" font-family="'Liberation Sans', sans-serif" font-size="10.745" font-weight="normal" font-style="normal" fill="#000" letter-spacing="0.04em">Potential (V)</text>
<text transform="translate(302.82 293.81) scale(1.0500 1)" font-family="'Liberation Serif', serif" font-size="13.778" font-weight="bold" font-style="normal" fill="#000">(c)</text>
<text transform="translate(225.23 407.27) scale(1.1263 1)" font-family="'Liberation Serif', serif" font-size="7.640" font-weight="bold" font-style="normal" fill="#000" letter-spacing="0.05em">N-C@m-Si</text>
<path d="M42 280.5 C41.97 281.83 41.73 285.08 41.8 288.5 C41.87 291.92 41.98 297.45 42.4 301 C42.82 304.55 43.57 307.07 44.3 309.8 C45.03 312.53 45.93 315.03 46.8 317.4 C47.67 319.77 48.72 321.9 49.5 324 C50.28 326.1 50.42 327.33 51.5 330 C52.58 332.67 54.58 336.83 56 340 C57.42 343.17 58.67 345.82 60 349 C61.33 352.18 62.67 355.75 64 359.1 C65.33 362.45 66.67 365.93 68 369.1 C69.33 372.27 70.67 375.37 72 378.1 C73.33 380.83 74.72 383.22 76 385.5 C77.28 387.78 78.07 389.05 79.7 391.8 C81.33 394.55 83.8 398.83 85.8 402 C87.8 405.17 89.57 407.83 91.7 410.8 C93.83 413.77 96.27 416.85 98.6 419.8 C100.93 422.75 103.55 426.07 105.7 428.5 C107.85 430.93 109.37 432.45 111.5 434.4 C113.63 436.35 115.97 438.25 118.5 440.2 C121.03 442.15 123.97 444.53 126.7 446.1 C129.43 447.67 131.98 448.63 134.9 449.6 C137.82 450.57 140.02 451.03 144.2 451.9 C148.38 452.77 154.03 453.8 160 454.8 C165.97 455.8 173.33 456.92 180 457.9 C186.67 458.88 192.93 459.67 200 460.7 C207.07 461.73 213.32 462.72 222.4 464.1 C231.48 465.48 244.6 467.5 254.5 469 C264.4 470.5 277.25 472.42 281.8 473.1" stroke="#000" stroke-width="1.6" fill="none" stroke-linejoin="round" stroke-linecap="round"/>
<path d="M41.06 453.48 L42.11 452.65 L43.17 451.85 L44.25 451.08 L45.33 450.33 L46.42 449.61 L47.52 448.92 L48.63 448.25 L49.75 447.6 L50.87 446.98 L52 446.39 L53.15 445.81 L54.29 445.26 L55.45 444.73 L56.61 444.22 L57.78 443.73 L58.96 443.26 L60.14 442.8 L61.33 442.37 L62.52 441.95 L63.72 441.56 L64.93 441.18 L66.14 440.81 L67.35 440.46 L68.57 440.13 L69.8 439.8 L71.03 439.5 L72.27 439.2 L73.5 438.92 L74.75 438.65 L75.99 438.4 L77.24 438.15 L78.49 437.91 L79.75 437.69 L81.01 437.47 L82.27 437.26 L83.53 437.06 L84.8 436.86 L86.07 436.67 L87.34 436.49 L88.61 436.31 L89.88 436.14 L91.15 435.97 L92.43 435.81 L93.7 435.65 L94.98 435.49 L96.25 435.34 L97.53 435.18 L98.8 435.03 L100.08 434.87 L101.35 434.72 L102.63 434.56 L103.9 434.4 L105.17 434.25 L106.44 434.08 L107.71 433.92 L108.98 433.75 L110.25 433.58 L111.51 433.4 L112.77 433.22 L114.04 433.03 L115.3 432.84 L116.55 432.63 L117.81 432.43 L119.06 432.21 L120.31 431.98 L121.56 431.75 L122.81 431.51 L124.05 431.25 L125.29 430.99 L126.53 430.71 L127.76 430.43 L128.99 430.13 L130.22 429.82 L131.44 429.49 L132.66 429.16 L133.88 428.8 L135.09 428.44 L136.3 428.06 L137.5 427.66 L138.7 427.26 L139.9 426.84 L141.09 426.4 L142.28 425.96 L143.47 425.5 L144.65 425.03 L145.82 424.54 L146.99 424.04 L148.16 423.53 L149.33 423.01 L150.49 422.48 L151.64 421.93 L152.79 421.38 L153.94 420.81 L155.08 420.23 L156.22 419.64 L157.35 419.04 L158.48 418.42 L159.6 417.8 L160.72 417.17 L161.83 416.52 L162.94 415.87 L164.05 415.2 L165.15 414.53 L166.24 413.84 L167.33 413.15 L168.41 412.45 L169.49 411.73 L170.56 411.01 L171.63 410.27 L172.68 409.53 L173.73 408.77 L174.77 408.01 L175.8 407.23 L176.83 406.45 L177.84 405.65 L178.85 404.85 L179.84 404.03 L180.82 403.2 L181.8 402.36 L182.76 401.51 L183.7 400.65 L184.64 399.78 L185.56 398.9 L186.48 398.01 L187.37 397.1 L188.26 396.19 L189.12 395.26 L189.98 394.33 L190.82 393.38 L191.64 392.42 L192.45 391.45 L193.24 390.46 L194.01 389.47 L194.77 388.46 L195.51 387.45 L196.23 386.42 L196.93 385.38 L197.62 384.32 L198.28 383.26 L198.92 382.18 L199.55 381.09 L200.15 379.99 L200.74 378.88 L201.3 377.75 L201.84 376.62 L202.36 375.47 L202.87 374.32 L203.35 373.15 L203.82 371.97 L204.27 370.79 L204.71 369.59 L205.13 368.39 L205.53 367.18 L205.91 365.96 L206.29 364.73 L206.64 363.5 L206.99 362.27 L207.32 361.02 L207.64 359.77 L207.95 358.52 L208.24 357.26 L208.53 356 L208.8 354.74 L209.07 353.47 L209.32 352.2 L209.57 350.92 L209.81 349.65 L210.04 348.37 L210.26 347.1 L210.48 345.82 L210.69 344.54 L210.89 343.26 L211.09 341.99 L211.29 340.71 L211.48 339.44 L211.66 338.16 L211.84 336.89 L212.02 335.61 L212.2 334.34 L212.37 333.07 L212.54 331.8 L212.71 330.53 L212.88 329.26 L213.04 327.99 L213.21 326.73 L213.37 325.46 L213.53 324.19 L213.7 322.93 L213.86 321.66 L214.02 320.4 L214.19 319.14 L214.35 317.88 L214.52 316.62 L214.69 315.36 L214.86 314.1 L215.03 312.84 L215.21 311.58 L215.39 310.33 L215.57 309.07 L215.76 307.82 L215.95 306.56 L216.14 305.31 L216.34 304.06 L216.55 302.81 L216.76 301.56 L216.98 300.31 L217.2 299.07" stroke="#000" stroke-width="1.5" fill="none" stroke-linejoin="round" stroke-linecap="round"/>
<path d="M40.95 448.67 L41.87 447.72 L42.81 446.81 L43.77 445.93 L44.74 445.09 L45.74 444.28 L46.75 443.51 L47.79 442.76 L48.83 442.05 L49.9 441.37 L50.98 440.71 L52.07 440.08 L53.18 439.47 L54.3 438.88 L55.43 438.32 L56.58 437.78 L57.73 437.25 L58.9 436.75 L60.07 436.26 L61.25 435.78 L62.44 435.32 L63.64 434.87 L64.84 434.43 L66.05 434 L67.26 433.57 L68.48 433.16 L69.7 432.75 L70.92 432.34 L72.14 431.93 L73.36 431.53 L74.59 431.12 L75.81 430.72 L77.03 430.31 L78.25 429.89 L79.47 429.47 L80.68 429.04 L81.89 428.61 L83.09 428.16 L84.29 427.7 L85.48 427.23 L86.66 426.75 L87.84 426.25 L89.01 425.74 L90.17 425.21 L91.32 424.67 L92.47 424.12 L93.61 423.55 L94.74 422.97 L95.86 422.37 L96.98 421.76 L98.08 421.14 L99.18 420.5 L100.28 419.85 L101.36 419.18 L102.44 418.5 L103.51 417.81 L104.57 417.1 L105.62 416.38 L106.67 415.65 L107.7 414.9 L108.73 414.13 L109.75 413.35 L110.77 412.56 L111.77 411.76 L112.76 410.94 L113.75 410.1 L114.72 409.26 L115.69 408.4 L116.64 407.53 L117.58 406.64 L118.51 405.74 L119.43 404.83 L120.34 403.91 L121.23 402.98 L122.11 402.03 L122.98 401.08 L123.83 400.11 L124.67 399.13 L125.49 398.14 L126.29 397.14 L127.08 396.13 L127.86 395.11 L128.62 394.07 L129.36 393.03 L130.08 391.98 L130.78 390.92 L131.47 389.85 L132.14 388.77 L132.79 387.67 L133.42 386.57 L134.03 385.46 L134.62 384.34 L135.19 383.21 L135.74 382.07 L136.27 380.92 L136.78 379.76 L137.27 378.59 L137.73 377.41 L138.18 376.23 L138.61 375.04 L139.02 373.84 L139.41 372.63 L139.79 371.41 L140.15 370.19 L140.49 368.97 L140.83 367.73 L141.14 366.5 L141.45 365.26 L141.74 364.01 L142.01 362.76 L142.28 361.51 L142.54 360.25 L142.79 359 L143.02 357.74 L143.25 356.47 L143.47 355.21 L143.68 353.94 L143.88 352.67 L144.07 351.4 L144.26 350.13 L144.44 348.86 L144.61 347.58 L144.77 346.31 L144.92 345.03 L145.07 343.75 L145.22 342.47 L145.36 341.19 L145.49 339.91 L145.61 338.63 L145.73 337.34 L145.85 336.06 L145.96 334.77 L146.07 333.49 L146.17 332.2 L146.27 330.92 L146.37 329.63 L146.46 328.35 L146.56 327.06 L146.64 325.78 L146.73 324.5 L146.81 323.21 L146.9 321.93 L146.98 320.65 L147.06 319.36 L147.13 318.08 L147.21 316.8 L147.29 315.52 L147.37 314.25 L147.45 312.97 L147.52 311.7 L147.6 310.42 L147.68 309.15 L147.77 307.88 L147.85 306.61 L147.94 305.35 L148.02 304.08 L148.11 302.82 L148.21 301.56 L148.3 300.3 L148.4 299.05" stroke="#ee1010" stroke-width="1.8" fill="none" stroke-linejoin="round" stroke-linecap="round"/>
<path d="M40.97 449.63 L41.88 448.65 L42.82 447.71 L43.78 446.81 L44.76 445.95 L45.75 445.13 L46.77 444.34 L47.8 443.59 L48.85 442.87 L49.91 442.18 L50.99 441.52 L52.09 440.88 L53.2 440.28 L54.32 439.69 L55.45 439.13 L56.6 438.6 L57.75 438.08 L58.92 437.58 L60.09 437.1 L61.28 436.63 L62.47 436.18 L63.66 435.74 L64.87 435.31 L66.08 434.89 L67.29 434.48 L68.51 434.07 L69.73 433.67 L70.96 433.27 L72.18 432.88 L73.41 432.48 L74.64 432.09 L75.87 431.69 L77.09 431.28 L78.32 430.88 L79.54 430.46 L80.76 430.03 L81.97 429.6 L83.18 429.15 L84.38 428.69 L85.58 428.22 L86.77 427.73 L87.95 427.22 L89.13 426.7 L90.3 426.16 L91.46 425.61 L92.61 425.04 L93.76 424.45 L94.89 423.86 L96.02 423.24 L97.14 422.61 L98.25 421.97 L99.35 421.32 L100.45 420.64 L101.53 419.96 L102.61 419.26 L103.67 418.55 L104.73 417.82 L105.77 417.08 L106.81 416.32 L107.83 415.55 L108.85 414.77 L109.85 413.98 L110.84 413.17 L111.82 412.35 L112.8 411.51 L113.75 410.66 L114.7 409.8 L115.64 408.93 L116.56 408.05 L117.47 407.15 L118.37 406.24 L119.26 405.32 L120.13 404.38 L121 403.44 L121.84 402.48 L122.68 401.51 L123.5 400.53 L124.31 399.54 L125.1 398.53 L125.88 397.52 L126.65 396.49 L127.4 395.46 L128.14 394.41 L128.86 393.35 L129.57 392.28 L130.26 391.2 L130.93 390.11 L131.59 389.01 L132.23 387.91 L132.85 386.79 L133.46 385.66 L134.04 384.52 L134.61 383.38 L135.15 382.22 L135.68 381.06 L136.19 379.89 L136.67 378.71 L137.14 377.52 L137.59 376.33 L138.02 375.13 L138.43 373.92 L138.83 372.71 L139.2 371.49 L139.57 370.26 L139.92 369.03 L140.25 367.8 L140.57 366.56 L140.88 365.31 L141.17 364.07 L141.45 362.82 L141.73 361.56 L141.99 360.31 L142.24 359.05 L142.48 357.79 L142.71 356.53 L142.93 355.26 L143.14 354 L143.35 352.73 L143.54 351.46 L143.73 350.19 L143.91 348.92 L144.09 347.64 L144.25 346.37 L144.41 345.09 L144.56 343.81 L144.71 342.53 L144.85 341.25 L144.98 339.97 L145.11 338.69 L145.24 337.41 L145.35 336.13 L145.47 334.85 L145.58 333.56 L145.68 332.28 L145.78 330.99 L145.88 329.71 L145.98 328.42 L146.07 327.14 L146.16 325.85 L146.24 324.57 L146.33 323.29 L146.41 322 L146.49 320.72 L146.57 319.43 L146.65 318.15 L146.73 316.87 L146.8 315.59 L146.88 314.31 L146.96 313.03 L147.03 311.75 L147.11 310.47 L147.19 309.19 L147.27 307.92 L147.35 306.65 L147.44 305.37 L147.52 304.1 L147.61 302.83 L147.7 301.56 L147.8 300.3 L147.89 299.03" stroke="#7f1fff" stroke-width="1.4" fill="none" stroke-linejoin="round" stroke-linecap="round"/>
<path d="M41 446 L41 462" stroke="#7f1fff" stroke-width="1.4" fill="none" stroke-linejoin="round" stroke-linecap="round"/>
<path d="M41 352 C41.03 355.83 41.08 369.2 41.2 375 C41.32 380.8 41.33 383.52 41.7 386.8 C42.07 390.08 42.55 392.27 43.4 394.7 C44.25 397.13 45.48 398.97 46.8 401.4 C48.12 403.83 49.8 406.67 51.3 409.3 C52.8 411.93 54.3 414.57 55.8 417.2 C57.3 419.83 58.8 422.47 60.3 425.1 C61.8 427.73 63.3 430.55 64.8 433 C66.3 435.45 67.8 437.63 69.3 439.8 C70.8 441.97 72.1 444.03 73.8 446 C75.5 447.97 77.62 450 79.5 451.6 C81.38 453.2 83.22 454.38 85.1 455.6 C86.98 456.82 88.73 457.78 90.8 458.9 C92.87 460.02 95.4 461.45 97.5 462.3 C99.6 463.15 100.48 463.3 103.4 464 C106.32 464.7 110.73 465.6 115 466.5 C119.27 467.4 124.83 468.57 129 469.4 C133.17 470.23 136.27 470.77 140 471.5 C143.73 472.23 149.5 473.42 151.4 473.8" stroke="#ee1010" stroke-width="1.8" fill="none" stroke-linejoin="round" stroke-linecap="round"/>
<path d="M41.3 352.5 C41.33 356.33 41.38 369.7 41.5 375.5 C41.62 381.3 41.63 384.02 42 387.3 C42.37 390.58 42.85 392.77 43.7 395.2 C44.55 397.63 45.78 399.47 47.1 401.9 C48.42 404.33 50.1 407.17 51.6 409.8 C53.1 412.43 54.6 415.07 56.1 417.7 C57.6 420.33 59.1 422.97 60.6 425.6 C62.1 428.23 63.6 431.05 65.1 433.5 C66.6 435.95 68.1 438.13 69.6 440.3 C71.1 442.47 72.4 444.53 74.1 446.5 C75.8 448.47 77.92 450.5 79.8 452.1 C81.68 453.7 83.52 454.88 85.4 456.1 C87.28 457.32 89.03 458.28 91.1 459.4 C93.17 460.52 95.7 461.95 97.8 462.8 C99.9 463.65 100.78 463.8 103.7 464.5 C106.62 465.2 111.03 466.1 115.3 467 C119.57 467.9 125.13 469.07 129.3 469.9 C133.47 470.73 136.57 471.27 140.3 472 C144.03 472.73 149.8 473.92 151.7 474.3" stroke="#7f1fff" stroke-width="1.3" fill="none" stroke-linejoin="round" stroke-linecap="round"/>
<text transform="translate(121.19 291.15) scale(1.0341 1)" font-family="'Liberation Serif', serif" font-size="7.463" font-weight="bold" font-style="normal" fill="#000">50</text>
<text transform="translate(165.11 290.62) scale(0.9470 1)" font-family="'Liberation Serif', serif" font-size="7.576" font-weight="bold" font-style="normal" fill="#000">25</text>
<text transform="translate(232.47 291.1) scale(0.7135 1)" font-family="'Liberation Serif', serif" font-size="7.576" font-weight="bold" font-style="normal" fill="#000">1</text>
<line x1="132.8" y1="292.3" x2="145.8" y2="298.2" stroke="#6a42cc" stroke-width="1.3"/>
<path d="M145.8 298.2 L142.8 298.27 L143.88 295.9Z" fill="#6a42cc"/>
<line x1="163.5" y1="292" x2="151" y2="298.3" stroke="#6a42cc" stroke-width="1.3"/>
<path d="M151 298.3 L152.82 295.92 L154 298.25Z" fill="#6a42cc"/>
<line x1="231.9" y1="291.4" x2="219.6" y2="297.5" stroke="#6a42cc" stroke-width="1.3"/>
<path d="M219.6 297.5 L221.44 295.13 L222.6 297.47Z" fill="#6a42cc"/>
<rect x="394" y="276.5" width="282.8" height="219.7" fill="none" stroke="#000" stroke-width="1.5" stroke-linejoin="round"/>
<line x1="398.57" y1="496.2" x2="398.57" y2="493.7" stroke="#000" stroke-width="1.08"/>
<line x1="405.7" y1="496.2" x2="405.7" y2="493.7" stroke="#000" stroke-width="1.08"/>
<line x1="412.83" y1="496.2" x2="412.83" y2="493.7" stroke="#000" stroke-width="1.08"/>
<line x1="427.1" y1="496.2" x2="427.1" y2="493.7" stroke="#000" stroke-width="1.08"/>
<line x1="434.24" y1="496.2" x2="434.24" y2="493.7" stroke="#000" stroke-width="1.08"/>
<line x1="441.37" y1="496.2" x2="441.37" y2="493.7" stroke="#000" stroke-width="1.08"/>
<line x1="455.64" y1="496.2" x2="455.64" y2="493.7" stroke="#000" stroke-width="1.08"/>
<line x1="462.77" y1="496.2" x2="462.77" y2="493.7" stroke="#000" stroke-width="1.08"/>
<line x1="469.91" y1="496.2" x2="469.91" y2="493.7" stroke="#000" stroke-width="1.08"/>
<line x1="484.18" y1="496.2" x2="484.18" y2="493.7" stroke="#000" stroke-width="1.08"/>
<line x1="491.31" y1="496.2" x2="491.31" y2="493.7" stroke="#000" stroke-width="1.08"/>
<line x1="498.44" y1="496.2" x2="498.44" y2="493.7" stroke="#000" stroke-width="1.08"/>
<line x1="512.71" y1="496.2" x2="512.71" y2="493.7" stroke="#000" stroke-width="1.08"/>
<line x1="519.85" y1="496.2" x2="519.85" y2="493.7" stroke="#000" stroke-width="1.08"/>
<line x1="526.98" y1="496.2" x2="526.98" y2="493.7" stroke="#000" stroke-width="1.08"/>
<line x1="541.25" y1="496.2" x2="541.25" y2="493.7" stroke="#000" stroke-width="1.08"/>
<line x1="548.38" y1="496.2" x2="548.38" y2="493.7" stroke="#000" stroke-width="1.08"/>
<line x1="555.52" y1="496.2" x2="555.52" y2="493.7" stroke="#000" stroke-width="1.08"/>
<line x1="569.79" y1="496.2" x2="569.79" y2="493.7" stroke="#000" stroke-width="1.08"/>
<line x1="576.92" y1="496.2" x2="576.92" y2="493.7" stroke="#000" stroke-width="1.08"/>
<line x1="584.06" y1="496.2" x2="584.06" y2="493.7" stroke="#000" stroke-width="1.08"/>
<line x1="598.32" y1="496.2" x2="598.32" y2="493.7" stroke="#000" stroke-width="1.08"/>
<line x1="605.46" y1="496.2" x2="605.46" y2="493.7" stroke="#000" stroke-width="1.08"/>
<line x1="612.59" y1="496.2" x2="612.59" y2="493.7" stroke="#000" stroke-width="1.08"/>
<line x1="626.86" y1="496.2" x2="626.86" y2="493.7" stroke="#000" stroke-width="1.08"/>
<line x1="633.99" y1="496.2" x2="633.99" y2="493.7" stroke="#000" stroke-width="1.08"/>
<line x1="641.13" y1="496.2" x2="641.13" y2="493.7" stroke="#000" stroke-width="1.08"/>
<line x1="655.4" y1="496.2" x2="655.4" y2="493.7" stroke="#000" stroke-width="1.08"/>
<line x1="662.53" y1="496.2" x2="662.53" y2="493.7" stroke="#000" stroke-width="1.08"/>
<line x1="669.67" y1="496.2" x2="669.67" y2="493.7" stroke="#000" stroke-width="1.08"/>
<line x1="394" y1="486.21" x2="396.5" y2="486.21" stroke="#000" stroke-width="1.08"/>
<line x1="394" y1="476.23" x2="396.5" y2="476.23" stroke="#000" stroke-width="1.08"/>
<line x1="394" y1="466.24" x2="396.5" y2="466.24" stroke="#000" stroke-width="1.08"/>
<line x1="394" y1="446.27" x2="396.5" y2="446.27" stroke="#000" stroke-width="1.08"/>
<line x1="394" y1="436.28" x2="396.5" y2="436.28" stroke="#000" stroke-width="1.08"/>
<line x1="394" y1="426.3" x2="396.5" y2="426.3" stroke="#000" stroke-width="1.08"/>
<line x1="394" y1="406.32" x2="396.5" y2="406.32" stroke="#000" stroke-width="1.08"/>
<line x1="394" y1="396.34" x2="396.5" y2="396.34" stroke="#000" stroke-width="1.08"/>
<line x1="394" y1="386.35" x2="396.5" y2="386.35" stroke="#000" stroke-width="1.08"/>
<line x1="394" y1="366.38" x2="396.5" y2="366.38" stroke="#000" stroke-width="1.08"/>
<line x1="394" y1="356.39" x2="396.5" y2="356.39" stroke="#000" stroke-width="1.08"/>
<line x1="394" y1="346.4" x2="396.5" y2="346.4" stroke="#000" stroke-width="1.08"/>
<line x1="394" y1="326.43" x2="396.5" y2="326.43" stroke="#000" stroke-width="1.08"/>
<line x1="394" y1="316.45" x2="396.5" y2="316.45" stroke="#000" stroke-width="1.08"/>
<line x1="394" y1="306.46" x2="396.5" y2="306.46" stroke="#000" stroke-width="1.08"/>
<line x1="394" y1="286.49" x2="396.5" y2="286.49" stroke="#000" stroke-width="1.08"/>
<line x1="419.97" y1="496.2" x2="419.97" y2="491.5" stroke="#000" stroke-width="1.32"/>
<text x="419.97" y="505.6" font-family="'Liberation Sans', sans-serif" font-size="10.8" font-weight="bold" text-anchor="middle" dominant-baseline="central" fill="#000" transform="translate(419.97 505.6) scale(0.87 1) translate(-419.97 -505.6)">0.2</text>
<line x1="448.51" y1="496.2" x2="448.51" y2="491.5" stroke="#000" stroke-width="1.32"/>
<text x="448.51" y="505.6" font-family="'Liberation Sans', sans-serif" font-size="10.8" font-weight="bold" text-anchor="middle" dominant-baseline="central" fill="#000" transform="translate(448.51 505.6) scale(0.87 1) translate(-448.51 -505.6)">0.4</text>
<line x1="477.04" y1="496.2" x2="477.04" y2="491.5" stroke="#000" stroke-width="1.32"/>
<text x="477.04" y="505.6" font-family="'Liberation Sans', sans-serif" font-size="10.8" font-weight="bold" text-anchor="middle" dominant-baseline="central" fill="#000" transform="translate(477.04 505.6) scale(0.87 1) translate(-477.04 -505.6)">0.6</text>
<line x1="505.58" y1="496.2" x2="505.58" y2="491.5" stroke="#000" stroke-width="1.32"/>
<text x="505.58" y="505.6" font-family="'Liberation Sans', sans-serif" font-size="10.8" font-weight="bold" text-anchor="middle" dominant-baseline="central" fill="#000" transform="translate(505.58 505.6) scale(0.87 1) translate(-505.58 -505.6)">0.8</text>
<line x1="534.12" y1="496.2" x2="534.12" y2="491.5" stroke="#000" stroke-width="1.32"/>
<text x="534.12" y="505.6" font-family="'Liberation Sans', sans-serif" font-size="10.8" font-weight="bold" text-anchor="middle" dominant-baseline="central" fill="#000" transform="translate(534.12 505.6) scale(0.87 1) translate(-534.12 -505.6)">1.0</text>
<line x1="562.65" y1="496.2" x2="562.65" y2="491.5" stroke="#000" stroke-width="1.32"/>
<text x="562.65" y="505.6" font-family="'Liberation Sans', sans-serif" font-size="10.8" font-weight="bold" text-anchor="middle" dominant-baseline="central" fill="#000" transform="translate(562.65 505.6) scale(0.87 1) translate(-562.65 -505.6)">1.2</text>
<line x1="591.19" y1="496.2" x2="591.19" y2="491.5" stroke="#000" stroke-width="1.32"/>
<text x="591.19" y="505.6" font-family="'Liberation Sans', sans-serif" font-size="10.8" font-weight="bold" text-anchor="middle" dominant-baseline="central" fill="#000" transform="translate(591.19 505.6) scale(0.87 1) translate(-591.19 -505.6)">1.4</text>
<line x1="619.73" y1="496.2" x2="619.73" y2="491.5" stroke="#000" stroke-width="1.32"/>
<text x="619.73" y="505.6" font-family="'Liberation Sans', sans-serif" font-size="10.8" font-weight="bold" text-anchor="middle" dominant-baseline="central" fill="#000" transform="translate(619.73 505.6) scale(0.87 1) translate(-619.73 -505.6)">1.6</text>
<line x1="648.26" y1="496.2" x2="648.26" y2="491.5" stroke="#000" stroke-width="1.32"/>
<text x="648.26" y="505.6" font-family="'Liberation Sans', sans-serif" font-size="10.8" font-weight="bold" text-anchor="middle" dominant-baseline="central" fill="#000" transform="translate(648.26 505.6) scale(0.87 1) translate(-648.26 -505.6)">1.8</text>
<line x1="676.8" y1="496.2" x2="676.8" y2="491.5" stroke="#000" stroke-width="1.32"/>
<text x="676.8" y="505.6" font-family="'Liberation Sans', sans-serif" font-size="10.8" font-weight="bold" text-anchor="middle" dominant-baseline="central" fill="#000" transform="translate(676.8 505.6) scale(0.87 1) translate(-676.8 -505.6)">2.0</text>
<line x1="394" y1="496.2" x2="398.7" y2="496.2" stroke="#000" stroke-width="1.32"/>
<line x1="394" y1="456.25" x2="398.7" y2="456.25" stroke="#000" stroke-width="1.32"/>
<line x1="394" y1="416.31" x2="398.7" y2="416.31" stroke="#000" stroke-width="1.32"/>
<line x1="394" y1="376.36" x2="398.7" y2="376.36" stroke="#000" stroke-width="1.32"/>
<line x1="394" y1="336.42" x2="398.7" y2="336.42" stroke="#000" stroke-width="1.32"/>
<line x1="394" y1="296.47" x2="398.7" y2="296.47" stroke="#000" stroke-width="1.32"/>
<text x="388.9" y="494.7" font-family="'Liberation Sans', sans-serif" font-size="10.8" font-weight="bold" text-anchor="end" dominant-baseline="central" fill="#000" transform="translate(388.9 494.7) scale(0.86 1) translate(-388.9 -494.7)">-0.08</text>
<text x="388.9" y="454.75" font-family="'Liberation Sans', sans-serif" font-size="10.8" font-weight="bold" text-anchor="end" dominant-baseline="central" fill="#000" transform="translate(388.9 454.75) scale(0.86 1) translate(-388.9 -454.75)">-0.06</text>
<text x="388.9" y="414.81" font-family="'Liberation Sans', sans-serif" font-size="10.8" font-weight="bold" text-anchor="end" dominant-baseline="central" fill="#000" transform="translate(388.9 414.81) scale(0.86 1) translate(-388.9 -414.81)">-0.04</text>
<text x="388.9" y="374.86" font-family="'Liberation Sans', sans-serif" font-size="10.8" font-weight="bold" text-anchor="end" dominant-baseline="central" fill="#000" transform="translate(388.9 374.86) scale(0.86 1) translate(-388.9 -374.86)">-0.02</text>
<text x="388.9" y="334.92" font-family="'Liberation Sans', sans-serif" font-size="10.8" font-weight="bold" text-anchor="end" dominant-baseline="central" fill="#000" transform="translate(388.9 334.92) scale(0.86 1) translate(-388.9 -334.92)">0.00</text>
<text x="388.9" y="294.97" font-family="'Liberation Sans', sans-serif" font-size="10.8" font-weight="bold" text-anchor="end" dominant-baseline="central" fill="#000" transform="translate(388.9 294.97) scale(0.86 1) translate(-388.9 -294.97)">0.02</text>
<text transform="translate(495.86 528.91) scale(1.0088 1)" font-family="'Liberation Sans', sans-serif" font-size="13.298" font-weight="bold" font-style="normal" fill="#000">Potential (V)</text>
<text transform="translate(358.47 456.06) rotate(-90) scale(1.0749 1)" font-family="'Liberation Sans', sans-serif" font-size="12.979" font-weight="bold" font-style="normal" fill="#000">dQ/dV (mAh g<tspan font-size="62%" dy="-0.5em">-1</tspan><tspan dy="0.31em"> V</tspan><tspan font-size="62%" dy="-0.5em">-1</tspan><tspan dy="0.31em">)</tspan></text>
<text transform="translate(647.4 295.42) scale(0.9698 1)" font-family="'Liberation Serif', serif" font-size="18.000" font-weight="bold" font-style="normal" fill="#000">(d)</text>
<text transform="translate(529.15 367.16) scale(1.2626 1)" font-family="'Liberation Serif', serif" font-size="9.176" font-weight="normal" font-style="normal" fill="#000">N-C@m-Si</text>
<line x1="527.5" y1="390.2" x2="543.8" y2="390.2" stroke="#ff00ff" stroke-width="1.6"/>
<text x="551.4" y="389.6" font-family="'Liberation Serif', serif" font-size="11.2" font-weight="normal" text-anchor="start" dominant-baseline="central" fill="#000">Cycle 1</text>
<line x1="527.5" y1="402.8" x2="543.8" y2="402.8" stroke="#3a3ab8" stroke-width="1.6"/>
<text x="551.4" y="402.2" font-family="'Liberation Serif', serif" font-size="11.2" font-weight="normal" text-anchor="start" dominant-baseline="central" fill="#000">Cycle 2</text>
<line x1="527.5" y1="414.9" x2="543.8" y2="414.9" stroke="#55ee55" stroke-width="1.6"/>
<text x="551.4" y="414.3" font-family="'Liberation Serif', serif" font-size="11.2" font-weight="normal" text-anchor="start" dominant-baseline="central" fill="#000">Cycle 25</text>
<line x1="527.5" y1="426.9" x2="543.8" y2="426.9" stroke="#333" stroke-width="1.6"/>
<text x="551.4" y="426.3" font-family="'Liberation Serif', serif" font-size="11.2" font-weight="normal" text-anchor="start" dominant-baseline="central" fill="#000">Cycle 50</text>
<rect x="41" y="538.7" width="282.5" height="220.1" fill="none" stroke="#000" stroke-width="1.5" stroke-linejoin="round"/>
<line x1="72.39" y1="758.8" x2="72.39" y2="756.3" stroke="#000" stroke-width="1.08"/>
<line x1="135.17" y1="758.8" x2="135.17" y2="756.3" stroke="#000" stroke-width="1.08"/>
<line x1="197.94" y1="758.8" x2="197.94" y2="756.3" stroke="#000" stroke-width="1.08"/>
<line x1="260.72" y1="758.8" x2="260.72" y2="756.3" stroke="#000" stroke-width="1.08"/>
<line x1="323.5" y1="758.8" x2="323.5" y2="756.3" stroke="#000" stroke-width="1.08"/>
<line x1="41" y1="729.45" x2="43.5" y2="729.45" stroke="#000" stroke-width="1.08"/>
<line x1="41" y1="700.11" x2="43.5" y2="700.11" stroke="#000" stroke-width="1.08"/>
<line x1="41" y1="670.76" x2="43.5" y2="670.76" stroke="#000" stroke-width="1.08"/>
<line x1="41" y1="641.41" x2="43.5" y2="641.41" stroke="#000" stroke-width="1.08"/>
<line x1="41" y1="612.07" x2="43.5" y2="612.07" stroke="#000" stroke-width="1.08"/>
<line x1="41" y1="582.72" x2="43.5" y2="582.72" stroke="#000" stroke-width="1.08"/>
<line x1="41" y1="553.37" x2="43.5" y2="553.37" stroke="#000" stroke-width="1.08"/>
<line x1="41" y1="758.8" x2="41" y2="754.1" stroke="#000" stroke-width="1.32"/>
<text x="41" y="767.5" font-family="'Liberation Sans', sans-serif" font-size="10.8" font-weight="bold" text-anchor="middle" dominant-baseline="central" fill="#000" transform="translate(41 767.5) scale(1.0 1) translate(-41 -767.5)">0</text>
<line x1="103.78" y1="758.8" x2="103.78" y2="754.1" stroke="#000" stroke-width="1.32"/>
<text x="103.78" y="767.5" font-family="'Liberation Sans', sans-serif" font-size="10.8" font-weight="bold" text-anchor="middle" dominant-baseline="central" fill="#000" transform="translate(103.78 767.5) scale(1.0 1) translate(-103.78 -767.5)">200</text>
<line x1="166.56" y1="758.8" x2="166.56" y2="754.1" stroke="#000" stroke-width="1.32"/>
<text x="166.56" y="767.5" font-family="'Liberation Sans', sans-serif" font-size="10.8" font-weight="bold" text-anchor="middle" dominant-baseline="central" fill="#000" transform="translate(166.56 767.5) scale(1.0 1) translate(-166.56 -767.5)">400</text>
<line x1="229.33" y1="758.8" x2="229.33" y2="754.1" stroke="#000" stroke-width="1.32"/>
<text x="229.33" y="767.5" font-family="'Liberation Sans', sans-serif" font-size="10.8" font-weight="bold" text-anchor="middle" dominant-baseline="central" fill="#000" transform="translate(229.33 767.5) scale(1.0 1) translate(-229.33 -767.5)">600</text>
<line x1="292.11" y1="758.8" x2="292.11" y2="754.1" stroke="#000" stroke-width="1.32"/>
<text x="292.11" y="767.5" font-family="'Liberation Sans', sans-serif" font-size="10.8" font-weight="bold" text-anchor="middle" dominant-baseline="central" fill="#000" transform="translate(292.11 767.5) scale(1.0 1) translate(-292.11 -767.5)">800</text>
<line x1="41" y1="744.13" x2="45.7" y2="744.13" stroke="#000" stroke-width="1.32"/>
<line x1="41" y1="714.78" x2="45.7" y2="714.78" stroke="#000" stroke-width="1.32"/>
<line x1="41" y1="685.43" x2="45.7" y2="685.43" stroke="#000" stroke-width="1.32"/>
<line x1="41" y1="656.09" x2="45.7" y2="656.09" stroke="#000" stroke-width="1.32"/>
<line x1="41" y1="626.74" x2="45.7" y2="626.74" stroke="#000" stroke-width="1.32"/>
<line x1="41" y1="597.39" x2="45.7" y2="597.39" stroke="#000" stroke-width="1.32"/>
<line x1="41" y1="568.05" x2="45.7" y2="568.05" stroke="#000" stroke-width="1.32"/>
<line x1="41" y1="538.7" x2="45.7" y2="538.7" stroke="#000" stroke-width="1.32"/>
<text x="36.2" y="742.83" font-family="'Liberation Sans', sans-serif" font-size="10.6" font-weight="bold" text-anchor="end" dominant-baseline="central" fill="#000" transform="translate(36.2 742.83) scale(1.03 1) translate(-36.2 -742.83)">0.0</text>
<text x="36.2" y="713.48" font-family="'Liberation Sans', sans-serif" font-size="10.6" font-weight="bold" text-anchor="end" dominant-baseline="central" fill="#000" transform="translate(36.2 713.48) scale(1.03 1) translate(-36.2 -713.48)">0.5</text>
<text x="36.2" y="684.13" font-family="'Liberation Sans', sans-serif" font-size="10.6" font-weight="bold" text-anchor="end" dominant-baseline="central" fill="#000" transform="translate(36.2 684.13) scale(1.03 1) translate(-36.2 -684.13)">1.0</text>
<text x="36.2" y="654.79" font-family="'Liberation Sans', sans-serif" font-size="10.6" font-weight="bold" text-anchor="end" dominant-baseline="central" fill="#000" transform="translate(36.2 654.79) scale(1.03 1) translate(-36.2 -654.79)">1.5</text>
<text x="36.2" y="625.44" font-family="'Liberation Sans', sans-serif" font-size="10.6" font-weight="bold" text-anchor="end" dominant-baseline="central" fill="#000" transform="translate(36.2 625.44) scale(1.03 1) translate(-36.2 -625.44)">2.0</text>
<text x="36.2" y="596.09" font-family="'Liberation Sans', sans-serif" font-size="10.6" font-weight="bold" text-anchor="end" dominant-baseline="central" fill="#000" transform="translate(36.2 596.09) scale(1.03 1) translate(-36.2 -596.09)">2.5</text>
<text x="36.2" y="566.75" font-family="'Liberation Sans', sans-serif" font-size="10.6" font-weight="bold" text-anchor="end" dominant-baseline="central" fill="#000" transform="translate(36.2 566.75) scale(1.03 1) translate(-36.2 -566.75)">3.0</text>
<text x="36.2" y="537.4" font-family="'Liberation Sans', sans-serif" font-size="10.6" font-weight="bold" text-anchor="end" dominant-baseline="central" fill="#000" transform="translate(36.2 537.4) scale(1.03 1) translate(-36.2 -537.4)">3.5</text>
<text transform="translate(130.23 795.02) scale(1.0439 1)" font-family="'Liberation Sans', sans-serif" font-size="10.851" font-weight="normal" font-style="normal" fill="#000" letter-spacing="0.07em">Capacity (mAh g<tspan font-size="60%" dy="-0.5em">-1</tspan><tspan dy="0.3em">)</tspan></text>
<text transform="translate(11.58 682.57) rotate(-90) scale(0.9016 1)" font-family="'Liberation Sans', sans-serif" font-size="12.021" font-weight="normal" font-style="normal" fill="#000" letter-spacing="0.06em">Potential (V)</text>
<text transform="translate(299.21 559.63) scale(1.1372 1)" font-family="'Liberation Serif', serif" font-size="15.111" font-weight="bold" font-style="normal" fill="#000">(e)</text>
<text transform="translate(244.42 593.9) scale(0.9507 1)" font-family="'Liberation Serif', serif" font-size="9.697" font-weight="bold" font-style="normal" fill="#000" letter-spacing="0.12em">N-C</text>
<rect x="394" y="538.7" width="282.5" height="220.1" fill="none" stroke="#000" stroke-width="1.5" stroke-linejoin="round"/>
<line x1="399.68" y1="758.8" x2="399.68" y2="756.3" stroke="#000" stroke-width="1.08"/>
<line x1="406.78" y1="758.8" x2="406.78" y2="756.3" stroke="#000" stroke-width="1.08"/>
<line x1="413.87" y1="758.8" x2="413.87" y2="756.3" stroke="#000" stroke-width="1.08"/>
<line x1="428.07" y1="758.8" x2="428.07" y2="756.3" stroke="#000" stroke-width="1.08"/>
<line x1="435.17" y1="758.8" x2="435.17" y2="756.3" stroke="#000" stroke-width="1.08"/>
<line x1="442.27" y1="758.8" x2="442.27" y2="756.3" stroke="#000" stroke-width="1.08"/>
<line x1="456.46" y1="758.8" x2="456.46" y2="756.3" stroke="#000" stroke-width="1.08"/>
<line x1="463.56" y1="758.8" x2="463.56" y2="756.3" stroke="#000" stroke-width="1.08"/>
<line x1="470.66" y1="758.8" x2="470.66" y2="756.3" stroke="#000" stroke-width="1.08"/>
<line x1="484.85" y1="758.8" x2="484.85" y2="756.3" stroke="#000" stroke-width="1.08"/>
<line x1="491.95" y1="758.8" x2="491.95" y2="756.3" stroke="#000" stroke-width="1.08"/>
<line x1="499.05" y1="758.8" x2="499.05" y2="756.3" stroke="#000" stroke-width="1.08"/>
<line x1="513.25" y1="758.8" x2="513.25" y2="756.3" stroke="#000" stroke-width="1.08"/>
<line x1="520.34" y1="758.8" x2="520.34" y2="756.3" stroke="#000" stroke-width="1.08"/>
<line x1="527.44" y1="758.8" x2="527.44" y2="756.3" stroke="#000" stroke-width="1.08"/>
<line x1="541.64" y1="758.8" x2="541.64" y2="756.3" stroke="#000" stroke-width="1.08"/>
<line x1="548.74" y1="758.8" x2="548.74" y2="756.3" stroke="#000" stroke-width="1.08"/>
<line x1="555.83" y1="758.8" x2="555.83" y2="756.3" stroke="#000" stroke-width="1.08"/>
<line x1="570.03" y1="758.8" x2="570.03" y2="756.3" stroke="#000" stroke-width="1.08"/>
<line x1="577.13" y1="758.8" x2="577.13" y2="756.3" stroke="#000" stroke-width="1.08"/>
<line x1="584.23" y1="758.8" x2="584.23" y2="756.3" stroke="#000" stroke-width="1.08"/>
<line x1="598.42" y1="758.8" x2="598.42" y2="756.3" stroke="#000" stroke-width="1.08"/>
<line x1="605.52" y1="758.8" x2="605.52" y2="756.3" stroke="#000" stroke-width="1.08"/>
<line x1="612.62" y1="758.8" x2="612.62" y2="756.3" stroke="#000" stroke-width="1.08"/>
<line x1="626.81" y1="758.8" x2="626.81" y2="756.3" stroke="#000" stroke-width="1.08"/>
<line x1="633.91" y1="758.8" x2="633.91" y2="756.3" stroke="#000" stroke-width="1.08"/>
<line x1="641.01" y1="758.8" x2="641.01" y2="756.3" stroke="#000" stroke-width="1.08"/>
<line x1="655.21" y1="758.8" x2="655.21" y2="756.3" stroke="#000" stroke-width="1.08"/>
<line x1="662.3" y1="758.8" x2="662.3" y2="756.3" stroke="#000" stroke-width="1.08"/>
<line x1="669.4" y1="758.8" x2="669.4" y2="756.3" stroke="#000" stroke-width="1.08"/>
<line x1="394" y1="747.22" x2="396.5" y2="747.22" stroke="#000" stroke-width="1.08"/>
<line x1="394" y1="724.05" x2="396.5" y2="724.05" stroke="#000" stroke-width="1.08"/>
<line x1="394" y1="700.88" x2="396.5" y2="700.88" stroke="#000" stroke-width="1.08"/>
<line x1="394" y1="677.71" x2="396.5" y2="677.71" stroke="#000" stroke-width="1.08"/>
<line x1="394" y1="654.54" x2="396.5" y2="654.54" stroke="#000" stroke-width="1.08"/>
<line x1="394" y1="631.37" x2="396.5" y2="631.37" stroke="#000" stroke-width="1.08"/>
<line x1="394" y1="608.21" x2="396.5" y2="608.21" stroke="#000" stroke-width="1.08"/>
<line x1="394" y1="585.04" x2="396.5" y2="585.04" stroke="#000" stroke-width="1.08"/>
<line x1="394" y1="561.87" x2="396.5" y2="561.87" stroke="#000" stroke-width="1.08"/>
<line x1="420.97" y1="758.8" x2="420.97" y2="754.1" stroke="#000" stroke-width="1.32"/>
<text x="420.97" y="768.2" font-family="'Liberation Sans', sans-serif" font-size="10.8" font-weight="bold" text-anchor="middle" dominant-baseline="central" fill="#000" transform="translate(420.97 768.2) scale(0.95 1) translate(-420.97 -768.2)">0.2</text>
<line x1="449.36" y1="758.8" x2="449.36" y2="754.1" stroke="#000" stroke-width="1.32"/>
<text x="449.36" y="768.2" font-family="'Liberation Sans', sans-serif" font-size="10.8" font-weight="bold" text-anchor="middle" dominant-baseline="central" fill="#000" transform="translate(449.36 768.2) scale(0.95 1) translate(-449.36 -768.2)">0.4</text>
<line x1="477.76" y1="758.8" x2="477.76" y2="754.1" stroke="#000" stroke-width="1.32"/>
<text x="477.76" y="768.2" font-family="'Liberation Sans', sans-serif" font-size="10.8" font-weight="bold" text-anchor="middle" dominant-baseline="central" fill="#000" transform="translate(477.76 768.2) scale(0.95 1) translate(-477.76 -768.2)">0.6</text>
<line x1="506.15" y1="758.8" x2="506.15" y2="754.1" stroke="#000" stroke-width="1.32"/>
<text x="506.15" y="768.2" font-family="'Liberation Sans', sans-serif" font-size="10.8" font-weight="bold" text-anchor="middle" dominant-baseline="central" fill="#000" transform="translate(506.15 768.2) scale(0.95 1) translate(-506.15 -768.2)">0.8</text>
<line x1="534.54" y1="758.8" x2="534.54" y2="754.1" stroke="#000" stroke-width="1.32"/>
<text x="534.54" y="768.2" font-family="'Liberation Sans', sans-serif" font-size="10.8" font-weight="bold" text-anchor="middle" dominant-baseline="central" fill="#000" transform="translate(534.54 768.2) scale(0.95 1) translate(-534.54 -768.2)">1.0</text>
<line x1="562.93" y1="758.8" x2="562.93" y2="754.1" stroke="#000" stroke-width="1.32"/>
<text x="562.93" y="768.2" font-family="'Liberation Sans', sans-serif" font-size="10.8" font-weight="bold" text-anchor="middle" dominant-baseline="central" fill="#000" transform="translate(562.93 768.2) scale(0.95 1) translate(-562.93 -768.2)">1.2</text>
<line x1="591.32" y1="758.8" x2="591.32" y2="754.1" stroke="#000" stroke-width="1.32"/>
<text x="591.32" y="768.2" font-family="'Liberation Sans', sans-serif" font-size="10.8" font-weight="bold" text-anchor="middle" dominant-baseline="central" fill="#000" transform="translate(591.32 768.2) scale(0.95 1) translate(-591.32 -768.2)">1.4</text>
<line x1="619.72" y1="758.8" x2="619.72" y2="754.1" stroke="#000" stroke-width="1.32"/>
<text x="619.72" y="768.2" font-family="'Liberation Sans', sans-serif" font-size="10.8" font-weight="bold" text-anchor="middle" dominant-baseline="central" fill="#000" transform="translate(619.72 768.2) scale(0.95 1) translate(-619.72 -768.2)">1.6</text>
<line x1="648.11" y1="758.8" x2="648.11" y2="754.1" stroke="#000" stroke-width="1.32"/>
<text x="648.11" y="768.2" font-family="'Liberation Sans', sans-serif" font-size="10.8" font-weight="bold" text-anchor="middle" dominant-baseline="central" fill="#000" transform="translate(648.11 768.2) scale(0.95 1) translate(-648.11 -768.2)">1.8</text>
<line x1="676.5" y1="758.8" x2="676.5" y2="754.1" stroke="#000" stroke-width="1.32"/>
<text x="676.5" y="768.2" font-family="'Liberation Sans', sans-serif" font-size="10.8" font-weight="bold" text-anchor="middle" dominant-baseline="central" fill="#000" transform="translate(676.5 768.2) scale(0.95 1) translate(-676.5 -768.2)">2.0</text>
<line x1="394" y1="758.8" x2="398.7" y2="758.8" stroke="#000" stroke-width="1.32"/>
<line x1="394" y1="735.63" x2="398.7" y2="735.63" stroke="#000" stroke-width="1.32"/>
<line x1="394" y1="712.46" x2="398.7" y2="712.46" stroke="#000" stroke-width="1.32"/>
<line x1="394" y1="689.29" x2="398.7" y2="689.29" stroke="#000" stroke-width="1.32"/>
<line x1="394" y1="666.13" x2="398.7" y2="666.13" stroke="#000" stroke-width="1.32"/>
<line x1="394" y1="642.96" x2="398.7" y2="642.96" stroke="#000" stroke-width="1.32"/>
<line x1="394" y1="619.79" x2="398.7" y2="619.79" stroke="#000" stroke-width="1.32"/>
<line x1="394" y1="596.62" x2="398.7" y2="596.62" stroke="#000" stroke-width="1.32"/>
<line x1="394" y1="573.45" x2="398.7" y2="573.45" stroke="#000" stroke-width="1.32"/>
<line x1="394" y1="550.28" x2="398.7" y2="550.28" stroke="#000" stroke-width="1.32"/>
<text x="388.8" y="758.1" font-family="'Liberation Sans', sans-serif" font-size="11" font-weight="bold" text-anchor="end" dominant-baseline="central" fill="#000" transform="translate(388.8 758.1) scale(0.95 1) translate(-388.8 -758.1)">-0.016</text>
<text x="388.8" y="734.93" font-family="'Liberation Sans', sans-serif" font-size="11" font-weight="bold" text-anchor="end" dominant-baseline="central" fill="#000" transform="translate(388.8 734.93) scale(0.95 1) translate(-388.8 -734.93)">-0.014</text>
<text x="388.8" y="711.76" font-family="'Liberation Sans', sans-serif" font-size="11" font-weight="bold" text-anchor="end" dominant-baseline="central" fill="#000" transform="translate(388.8 711.76) scale(0.95 1) translate(-388.8 -711.76)">-0.012</text>
<text x="388.8" y="688.59" font-family="'Liberation Sans', sans-serif" font-size="11" font-weight="bold" text-anchor="end" dominant-baseline="central" fill="#000" transform="translate(388.8 688.59) scale(0.95 1) translate(-388.8 -688.59)">-0.010</text>
<text x="388.8" y="665.43" font-family="'Liberation Sans', sans-serif" font-size="11" font-weight="bold" text-anchor="end" dominant-baseline="central" fill="#000" transform="translate(388.8 665.43) scale(0.95 1) translate(-388.8 -665.43)">-0.008</text>
<text x="388.8" y="642.26" font-family="'Liberation Sans', sans-serif" font-size="11" font-weight="bold" text-anchor="end" dominant-baseline="central" fill="#000" transform="translate(388.8 642.26) scale(0.95 1) translate(-388.8 -642.26)">-0.006</text>
<text x="388.8" y="619.09" font-family="'Liberation Sans', sans-serif" font-size="11" font-weight="bold" text-anchor="end" dominant-baseline="central" fill="#000" transform="translate(388.8 619.09) scale(0.95 1) translate(-388.8 -619.09)">-0.004</text>
<text x="388.8" y="595.92" font-family="'Liberation Sans', sans-serif" font-size="11" font-weight="bold" text-anchor="end" dominant-baseline="central" fill="#000" transform="translate(388.8 595.92) scale(0.95 1) translate(-388.8 -595.92)">-0.002</text>
<text x="388.8" y="572.75" font-family="'Liberation Sans', sans-serif" font-size="11" font-weight="bold" text-anchor="end" dominant-baseline="central" fill="#000" transform="translate(388.8 572.75) scale(0.95 1) translate(-388.8 -572.75)">0.000</text>
<text x="388.8" y="549.58" font-family="'Liberation Sans', sans-serif" font-size="11" font-weight="bold" text-anchor="end" dominant-baseline="central" fill="#000" transform="translate(388.8 549.58) scale(0.95 1) translate(-388.8 -549.58)">0.002</text>
<text transform="translate(506.39 785.94) scale(0.9889 1)" font-family="'Liberation Sans', sans-serif" font-size="11.702" font-weight="bold" font-style="normal" fill="#000" letter-spacing="0.07em">Potential (V)</text>
<text transform="translate(346.78 708.8) rotate(-90) scale(0.8711 1)" font-family="'Liberation Sans', sans-serif" font-size="14.362" font-weight="bold" font-style="normal" fill="#000">dQ/dV (mAh g<tspan font-size="62%" dy="-0.5em">-1</tspan><tspan dy="0.31em"> V</tspan><tspan font-size="62%" dy="-0.5em">-1</tspan><tspan dy="0.31em">)</tspan></text>
<text transform="translate(652.29 553.49) scale(1.0658 1)" font-family="'Liberation Serif', serif" font-size="16.703" font-weight="bold" font-style="normal" fill="#000">(f)</text>
<text transform="translate(521.77 628.4) scale(1.0934 1)" font-family="'Liberation Serif', serif" font-size="10.149" font-weight="normal" font-style="normal" fill="#000">N-C</text>
<line x1="555.2" y1="648.2" x2="571.9" y2="648.2" stroke="#e040e0" stroke-width="1.5"/>
<line x1="555.2" y1="659.7" x2="571.9" y2="659.7" stroke="#5555cc" stroke-width="1.5"/>
<line x1="555.2" y1="670.5" x2="571.9" y2="670.5" stroke="#66dd66" stroke-width="1.5"/>
<line x1="555.2" y1="681.5" x2="571.9" y2="681.5" stroke="#222" stroke-width="1.5"/>
<text transform="translate(578.32 651.85) scale(0.9873 1)" font-family="'Liberation Serif', serif" font-size="9.778" font-weight="bold" font-style="normal" fill="#111" letter-spacing="0.07em">Cycle 1</text>
<text transform="translate(579.03 662.95) scale(0.9607 1)" font-family="'Liberation Serif', serif" font-size="9.778" font-weight="bold" font-style="normal" fill="#111" letter-spacing="0.07em">Cycle 2</text>
<text transform="translate(578.32 673.95) scale(0.9848 1)" font-family="'Liberation Serif', serif" font-size="9.778" font-weight="bold" font-style="normal" fill="#111" letter-spacing="0.07em">Cycle 25</text>
<text transform="translate(578.72 684.95) scale(0.9746 1)" font-family="'Liberation Serif', serif" font-size="9.778" font-weight="bold" font-style="normal" fill="#111" letter-spacing="0.07em">Cycle 50</text>
<path d="M424 336.7 L676 336.5" stroke="#ff00ff" stroke-width="1.2" fill="none" stroke-linejoin="round" stroke-linecap="round"/>
<path d="M434.7 338.2 L589 337.6" stroke="#111" stroke-width="1.4" fill="none" stroke-linejoin="round" stroke-linecap="round"/>
<path d="M394 431 L396.1 435.2 L398.2 446.2 L399.6 462.8 L401 481.4 L401.7 449 L402.3 420 L403.3 428.3 L404.4 446.2 L405.8 435.2 L407.9 414.5 L409.9 400 L412.4 397.2 L414.8 402.1 L416.8 411.7 L418.2 426.9 L418.9 407.6 L419.3 380 L420.1 345 L420.4 340.5 L421.5 338.6 L424.5 337" stroke="#ff00ff" stroke-width="1.5" fill="none" stroke-linejoin="round" stroke-linecap="round"/>
<path d="M394.4 400 L395.9 394.2 L397.2 393.5 L398.2 398.5 L398.9 412 L400.3 434 L401.7 452 L403.6 468.5 L404.4 458 L405.8 437 L407.2 418 L408.6 404 L410.6 394.5 L412.7 392.5 L414.8 394.5 L416.8 402.5 L418.9 418 L420.3 432 L421.5 444 L423 438 L425.1 420 L427.2 398 L428.6 381 L429.6 362 L430.6 345 L431.7 340.3 L434.7 338.6 L440 338.2" stroke="#2a2ab0" stroke-width="1.5" fill="none" stroke-linejoin="round" stroke-linecap="round"/>
<path d="M394.4 401 L395.9 395.5 L397.2 395 L398.2 399.5 L398.9 413 L400.3 434.5 L401.7 451 L403.5 465 L404.4 456 L405.8 436 L407.2 417.5 L408.6 404 L410.6 395 L412.7 393 L414.8 395 L416.8 402.5 L418.9 417.5 L420.3 429 L421.6 435 L423 431 L425.1 416 L427.2 396 L428.6 381 L429.6 362 L430.6 345 L431.7 340.3 L434.7 338.6" stroke="#44e044" stroke-width="1.4" fill="none" stroke-linejoin="round" stroke-linecap="round"/>
<path d="M394.8 402.1 L395.9 395.2 L397.2 394.5 L398.2 399.3 L398.9 414.5 L400.3 435.2 L401.7 451.7 L403.3 466.9 L404.4 455.9 L405.8 435.2 L407.2 417.2 L408.6 403.4 L410.6 393.8 L412.7 391.7 L414.8 393.8 L416.8 402.1 L418.9 417.2 L420.3 429.7 L421.7 433.8 L423 425.5 L425.1 411.7 L427.2 393.8 L428.6 380 L429.6 362 L430.8 345 L431.7 340.3 L434.7 338.5" stroke="#111" stroke-width="1.4" fill="none" stroke-linejoin="round" stroke-linecap="round"/>
<path d="M406.1 336.7 L406.98 336.47 L407.92 336.26 L408.9 336.06 L409.93 335.87 L410.99 335.67 L412.06 335.46 L413.15 335.24 L414.24 334.99 L415.31 334.71 L416.37 334.4 L417.39 334.03 L418.38 333.62 L419.31 333.14 L420.19 332.59 L420.99 331.97 L421.71 331.27 L422.36 330.48 L422.93 329.63 L423.43 328.72 L423.89 327.77 L424.31 326.79 L424.69 325.79 L425.05 324.79 L425.39 323.78 L425.71 322.76 L426.02 321.74 L426.3 320.72 L426.57 319.69 L426.82 318.66 L427.05 317.63 L427.28 316.6 L427.49 315.56 L427.69 314.53 L427.88 313.5 L428.06 312.48 L428.23 311.45 L428.4 310.43 L428.56 309.42 L428.72 308.41 L428.87 307.41 L429.03 306.41 L429.18 305.42 L429.33 304.44 L429.49 303.46 L429.65 302.47 L429.8 301.45 L429.96 300.42 L430.13 299.34 L430.3 298.22 L430.47 297.04 L430.64 295.81 L430.83 294.53 L431.05 293.27 L431.33 292.11 L431.68 291.13 L432.13 290.39 L432.7 289.98 L433.4 289.95 L434.22 290.28 L435.08 290.83 L435.92 291.5 L436.71 292.21 L437.44 292.95 L438.12 293.73 L438.77 294.54 L439.37 295.37 L439.93 296.24 L440.47 297.12 L440.97 298.03 L441.46 298.96 L441.92 299.9 L442.37 300.86 L442.81 301.84 L443.25 302.82 L443.68 303.81 L444.12 304.81 L444.55 305.81 L444.99 306.8 L445.44 307.8 L445.9 308.78 L446.36 309.76 L446.84 310.73 L447.34 311.68 L447.85 312.61 L448.38 313.52 L448.94 314.41 L449.51 315.27 L450.12 316.1 L450.75 316.9 L451.42 317.66 L452.11 318.39 L452.85 319.07 L453.62 319.71 L454.42 320.3 L455.27 320.84 L456.16 321.34 L457.08 321.81 L458.02 322.24 L458.99 322.64 L459.97 323.02 L460.97 323.39 L461.98 323.74 L462.99 324.09 L464.01 324.44 L465.02 324.79 L466.02 325.16 L467.01 325.53 L468 325.92 L468.97 326.31 L469.94 326.71 L470.91 327.11 L471.87 327.52 L472.83 327.92 L473.79 328.33 L474.74 328.72 L475.7 329.11 L476.66 329.5 L477.62 329.87 L478.59 330.23 L479.56 330.58 L480.54 330.91 L481.53 331.22 L482.52 331.51 L483.52 331.79 L484.53 332.04 L485.55 332.28 L486.57 332.5 L487.6 332.71 L488.64 332.9 L489.68 333.07 L490.72 333.23 L491.77 333.38 L492.83 333.51 L493.88 333.64 L494.94 333.75 L496 333.85 L497.07 333.94 L498.13 334.02 L499.2 334.09 L500.26 334.16 L501.33 334.22 L502.4 334.27 L503.46 334.31 L504.53 334.35 L505.59 334.39 L506.65 334.42 L507.7 334.45 L508.76 334.47 L509.81 334.5 L510.85 334.52 L511.89 334.55 L512.93 334.57 L513.96 334.59 L514.98 334.62 L516 334.65 L517.01 334.68 L518.02 334.71 L519.01 334.75 L520 334.8" stroke="#ff00ff" stroke-width="1.2" fill="none" stroke-linejoin="round" stroke-linecap="round"/>
<path d="M403.1 336.7 L403.98 336.62 L404.86 336.53 L405.73 336.43 L406.59 336.32 L407.45 336.19 L408.3 336.06 L409.15 335.9 L409.99 335.73 L410.83 335.54 L411.67 335.33 L412.5 335.11 L413.33 334.86 L414.16 334.58 L414.98 334.28 L415.8 333.96 L416.62 333.61 L417.44 333.23 L418.24 332.82 L419 332.37 L419.73 331.88 L420.4 331.35 L421.02 330.76 L421.57 330.14 L422.06 329.47 L422.51 328.76 L422.9 328.01 L423.25 327.24 L423.57 326.44 L423.84 325.61 L424.09 324.77 L424.31 323.9 L424.5 323.03 L424.68 322.14 L424.84 321.25 L424.99 320.36 L425.13 319.46 L425.28 318.57 L425.42 317.69 L425.57 316.82 L425.72 315.97 L425.88 315.12 L426.05 314.28 L426.22 313.44 L426.39 312.61 L426.56 311.78 L426.74 310.96 L426.92 310.13 L427.09 309.29 L427.27 308.45 L427.44 307.61 L427.61 306.75 L427.77 305.88 L427.94 305.01 L428.11 304.13 L428.28 303.25 L428.47 302.36 L428.67 301.49 L428.89 300.62 L429.13 299.76 L429.4 298.92 L429.69 298.1 L430.03 297.29 L430.4 296.52 L430.81 295.77 L431.26 295.05 L431.77 294.37 L432.33 293.73 L432.95 293.13 L433.62 292.61 L434.33 292.29 L435.05 292.32 L435.78 292.69 L436.49 293.3 L437.19 294.03 L437.86 294.8 L438.5 295.52 L439.11 296.18 L439.72 296.82 L440.31 297.43 L440.92 298.03 L441.53 298.65 L442.18 299.28 L442.85 299.92 L443.53 300.46 L444.23 300.83 L444.93 300.92 L445.62 300.68 L446.31 300.18 L446.99 299.48 L447.66 298.68 L448.33 297.85 L448.99 297.08 L449.64 296.43 L450.28 295.99 L450.92 295.85 L451.55 296.05 L452.16 296.56 L452.74 297.28 L453.28 298.11 L453.77 298.97 L454.2 299.82 L454.58 300.68 L454.92 301.52 L455.22 302.36 L455.48 303.2 L455.73 304.03 L455.95 304.86 L456.16 305.69 L456.36 306.51 L456.56 307.32 L456.76 308.14 L456.97 308.95 L457.19 309.75 L457.42 310.56 L457.67 311.37 L457.92 312.18 L458.18 313 L458.45 313.83 L458.71 314.67 L458.98 315.52 L459.24 316.39 L459.5 317.28 L459.76 318.18 L460.02 319.08 L460.29 319.98 L460.58 320.87 L460.89 321.73 L461.22 322.57 L461.59 323.37 L461.99 324.12 L462.44 324.82 L462.93 325.45 L463.47 326.02 L464.07 326.51 L464.74 326.91 L465.47 327.22 L466.26 327.44 L467.09 327.6 L467.97 327.71 L468.86 327.79 L469.76 327.86 L470.67 327.92 L471.57 327.99 L472.46 328.07 L473.36 328.15 L474.25 328.23 L475.13 328.31 L476.02 328.4 L476.9 328.49 L477.78 328.59 L478.65 328.69 L479.52 328.79 L480.39 328.89 L481.26 329 L482.13 329.11 L482.99 329.22 L483.86 329.33 L484.72 329.45 L485.58 329.57 L486.44 329.68 L487.29 329.8 L488.15 329.93 L489 330.05 L489.85 330.17 L490.71 330.3 L491.56 330.42 L492.41 330.55 L493.26 330.67 L494.11 330.8 L494.96 330.92 L495.81 331.05 L496.66 331.18 L497.51 331.3 L498.36 331.43 L499.21 331.55 L500.06 331.67 L500.91 331.8 L501.76 331.92 L502.61 332.04 L503.46 332.15 L504.32 332.27 L505.17 332.38 L506.03 332.5 L506.89 332.61 L507.75 332.72 L508.61 332.82 L509.47 332.92 L510.34 333.02 L511.2 333.12 L512.07 333.22 L512.94 333.31 L513.82 333.4 L514.69 333.48 L515.57 333.56 L516.45 333.64 L517.34 333.71 L518.23 333.78 L519.12 333.84 L520.01 333.9" stroke="#2a2ab0" stroke-width="1.5" fill="none" stroke-linejoin="round" stroke-linecap="round"/>
<path d="M520 333.9 L560 335.2 L676 335.9" stroke="#2a2ab0" stroke-width="1.5" fill="none" stroke-linejoin="round" stroke-linecap="round"/>
<path d="M462.22 324.27 L463.13 325.13 L464.12 325.81 L465.18 326.36 L466.29 326.78 L467.46 327.1 L468.66 327.35 L469.88 327.55 L471.11 327.73 L472.36 327.88 L473.61 328.02 L474.87 328.15 L476.13 328.26 L477.4 328.36 L478.67 328.46 L479.95 328.56 L481.22 328.65 L482.49 328.75 L483.77 328.86 L485.03 328.98 L486.3 329.11 L487.56 329.25 L488.81 329.41 L490.06 329.58 L491.31 329.76 L492.55 329.94 L493.8 330.13 L495.03 330.33 L496.27 330.54 L497.51 330.74 L498.74 330.95 L499.97 331.16 L501.21 331.37 L502.44 331.57 L503.68 331.77 L504.91 331.96 L506.15 332.15 L507.39 332.33 L508.63 332.51 L509.88 332.67 L511.13 332.81 L512.38 332.95 L513.64 333.07 L514.9 333.17 L516.16 333.26 L517.44 333.33 L518.72 333.37 L520 333.4" stroke="#44e044" stroke-width="1.5" fill="none" stroke-linejoin="round" stroke-linecap="round"/>
<path d="M520 333.4 L560 334.6 L676 335.3" stroke="#44e044" stroke-width="1.5" fill="none" stroke-linejoin="round" stroke-linecap="round"/>
<path d="M403.13 336.71 L403.88 336.59 L404.67 336.48 L405.5 336.36 L406.34 336.24 L407.21 336.11 L408.1 335.98 L409 335.83 L409.91 335.67 L410.82 335.5 L411.73 335.31 L412.64 335.09 L413.53 334.86 L414.42 334.59 L415.28 334.3 L416.13 333.98 L416.94 333.62 L417.73 333.23 L418.48 332.8 L419.19 332.33 L419.85 331.82 L420.47 331.26 L421.04 330.65 L421.56 330 L422.03 329.31 L422.46 328.58 L422.86 327.82 L423.22 327.04 L423.54 326.22 L423.84 325.39 L424.1 324.54 L424.35 323.67 L424.58 322.79 L424.78 321.91 L424.98 321.02 L425.16 320.13 L425.33 319.24 L425.5 318.36 L425.67 317.5 L425.83 316.64 L426 315.79 L426.16 314.95 L426.33 314.11 L426.49 313.28 L426.65 312.44 L426.82 311.61 L426.98 310.77 L427.14 309.92 L427.31 309.06 L427.47 308.19 L427.64 307.31 L427.8 306.41 L427.98 305.51 L428.16 304.6 L428.36 303.7 L428.58 302.8 L428.82 301.92 L429.1 301.06 L429.4 300.22 L429.75 299.41 L430.14 298.64 L430.57 297.9 L431.06 297.22 L431.6 296.58 L432.2 296 L432.87 295.48 L433.6 295.06 L434.37 294.82 L435.14 294.89 L435.9 295.25 L436.65 295.8 L437.37 296.46 L438.07 297.14 L438.73 297.79 L439.38 298.42 L440.02 299.03 L440.65 299.64 L441.29 300.26 L441.95 300.89 L442.62 301.52 L443.32 302.09 L444.04 302.5 L444.78 302.66 L445.53 302.51 L446.3 302.08 L447.07 301.45 L447.84 300.73 L448.6 299.99 L449.34 299.31 L450.06 298.78 L450.75 298.5 L451.4 298.54 L452 298.91 L452.57 299.52 L453.1 300.27 L453.6 301.06 L454.07 301.85 L454.5 302.65 L454.91 303.46 L455.29 304.26 L455.65 305.08 L455.99 305.89 L456.3 306.71 L456.6 307.54 L456.88 308.37 L457.15 309.2 L457.41 310.03 L457.66 310.87 L457.89 311.71 L458.13 312.55 L458.35 313.39 L458.58 314.24 L458.8 315.08 L459.03 315.93 L459.26 316.78 L459.5 317.63 L459.75 318.48 L460.01 319.32 L460.29 320.16 L460.59 320.99 L460.92 321.81 L461.28 322.62 L461.68 323.41 L462.11 324.19 L462.59 324.94 L463.12 325.66 L463.7 326.31 L464.35 326.87 L465.07 327.29 L465.86 327.57 L466.71 327.73 L467.61 327.81 L468.53 327.82 L469.46 327.81 L470.39 327.81 L471.31 327.81 L472.22 327.84 L473.12 327.88 L474.01 327.94 L474.9 328.01 L475.78 328.1 L476.65 328.19 L477.51 328.3 L478.38 328.41 L479.23 328.54 L480.09 328.66 L480.94 328.8 L481.79 328.94 L482.64 329.08 L483.49 329.22 L484.34 329.37 L485.19 329.51 L486.05 329.66 L486.9 329.8 L487.76 329.94 L488.62 330.07 L489.48 330.2 L490.35 330.34 L491.21 330.47 L492.08 330.59 L492.95 330.72 L493.82 330.84 L494.69 330.96 L495.56 331.08 L496.44 331.2 L497.31 331.32 L498.19 331.43 L499.07 331.54 L499.94 331.66 L500.82 331.77 L501.7 331.87 L502.58 331.98 L503.46 332.09 L504.33 332.19 L505.21 332.29 L506.09 332.39 L506.97 332.5 L507.84 332.59 L508.72 332.69 L509.6 332.79 L510.47 332.89 L511.34 332.98 L512.22 333.08 L513.09 333.17 L513.96 333.26 L514.83 333.36 L515.69 333.45 L516.56 333.54 L517.42 333.63 L518.28 333.72 L519.14 333.81 L520 333.9" stroke="#44e044" stroke-width="1.5" fill="none" stroke-linejoin="round" stroke-linecap="round"/>
<path d="M403.13 336.71 L403.87 336.59 L404.64 336.47 L405.45 336.35 L406.28 336.23 L407.13 336.11 L408 335.97 L408.88 335.83 L409.77 335.68 L410.67 335.51 L411.57 335.33 L412.46 335.12 L413.35 334.9 L414.22 334.65 L415.08 334.37 L415.92 334.07 L416.74 333.73 L417.53 333.36 L418.28 332.95 L419 332.51 L419.67 332.02 L420.3 331.49 L420.89 330.91 L421.42 330.29 L421.91 329.63 L422.36 328.93 L422.77 328.2 L423.15 327.45 L423.49 326.66 L423.81 325.85 L424.09 325.03 L424.35 324.19 L424.59 323.33 L424.81 322.47 L425.02 321.61 L425.21 320.74 L425.39 319.88 L425.57 319.02 L425.74 318.17 L425.9 317.33 L426.07 316.5 L426.23 315.67 L426.39 314.84 L426.55 314.02 L426.71 313.19 L426.87 312.37 L427.03 311.53 L427.19 310.69 L427.35 309.84 L427.51 308.98 L427.68 308.11 L427.85 307.22 L428.03 306.34 L428.23 305.45 L428.44 304.56 L428.68 303.69 L428.95 302.84 L429.25 302 L429.58 301.2 L429.95 300.43 L430.37 299.69 L430.84 299 L431.36 298.35 L431.93 297.77 L432.57 297.24 L433.28 296.78 L434.03 296.45 L434.8 296.37 L435.56 296.57 L436.31 297 L437.04 297.57 L437.74 298.2 L438.42 298.81 L439.07 299.41 L439.7 300 L440.34 300.59 L440.97 301.19 L441.63 301.82 L442.31 302.47 L443.01 303.1 L443.73 303.62 L444.46 303.94 L445.19 303.97 L445.93 303.69 L446.65 303.16 L447.38 302.49 L448.09 301.76 L448.8 301.06 L449.51 300.48 L450.2 300.11 L450.88 300.04 L451.54 300.29 L452.19 300.79 L452.8 301.43 L453.36 302.12 L453.89 302.82 L454.38 303.55 L454.83 304.29 L455.25 305.04 L455.63 305.81 L455.99 306.6 L456.32 307.39 L456.63 308.2 L456.92 309.01 L457.2 309.83 L457.45 310.66 L457.7 311.5 L457.94 312.34 L458.17 313.18 L458.39 314.03 L458.62 314.87 L458.84 315.72 L459.07 316.56 L459.31 317.4 L459.56 318.23 L459.82 319.06 L460.1 319.88 L460.39 320.7 L460.7 321.5 L461.04 322.3 L461.41 323.08 L461.8 323.85 L462.22 324.6 L462.68 325.34 L463.18 326.05 L463.74 326.68 L464.36 327.22 L465.06 327.62 L465.84 327.87 L466.68 328.01 L467.58 328.06 L468.5 328.06 L469.44 328.03 L470.37 328 L471.29 327.99 L472.2 328.01 L473.1 328.04 L473.98 328.1 L474.85 328.16 L475.72 328.25 L476.58 328.35 L477.43 328.46 L478.27 328.58 L479.11 328.71 L479.95 328.85 L480.78 328.99 L481.61 329.14 L482.44 329.29 L483.26 329.45 L484.09 329.6 L484.92 329.76 L485.75 329.91 L486.59 330.06 L487.43 330.2 L488.27 330.34 L489.11 330.48 L489.96 330.61 L490.81 330.74 L491.66 330.87 L492.52 330.99 L493.37 331.11 L494.23 331.23 L495.09 331.35 L495.95 331.46 L496.81 331.57 L497.68 331.68 L498.54 331.79 L499.41 331.89 L500.28 332 L501.14 332.1 L502.01 332.2 L502.88 332.3 L503.74 332.4 L504.61 332.49 L505.48 332.59 L506.34 332.68 L507.21 332.78 L508.07 332.87 L508.94 332.96 L509.8 333.06 L510.66 333.15 L511.52 333.24 L512.38 333.34 L513.24 333.43 L514.09 333.52 L514.94 333.62 L515.79 333.71 L516.64 333.81 L517.48 333.9 L518.33 334 L519.16 334.1 L520 334.2" stroke="#111" stroke-width="1.5" fill="none" stroke-linejoin="round" stroke-linecap="round"/>
<path d="M520 334.3 L560 335.6 L676 336.2" stroke="#111" stroke-width="1.5" fill="none" stroke-linejoin="round" stroke-linecap="round"/>
<text transform="translate(434.57 285.52) scale(0.7543 1)" font-family="'Liberation Serif', serif" font-size="7.576" font-weight="bold" font-style="normal" fill="#000">2</text>
<text transform="translate(464.61 288.42) scale(1.2913 1)" font-family="'Liberation Serif', serif" font-size="7.576" font-weight="bold" font-style="normal" fill="#000">25</text>
<text transform="translate(467.83 305.95) scale(1.2235 1)" font-family="'Liberation Serif', serif" font-size="7.463" font-weight="bold" font-style="normal" fill="#000">50</text>
<text transform="translate(475.5 318.5) scale(0.8205 1)" font-family="'Liberation Serif', serif" font-size="7.576" font-weight="bold" font-style="normal" fill="#000">1</text>
<line x1="439.3" y1="286.6" x2="449" y2="295.6" stroke="#6a42cc" stroke-width="1.3"/>
<path d="M449 295.6 L446.13 294.72 L447.91 292.81Z" fill="#6a42cc"/>
<line x1="462.3" y1="287.7" x2="452.1" y2="296.3" stroke="#6a42cc" stroke-width="1.3"/>
<path d="M452.1 296.3 L453.32 293.56 L455.01 295.56Z" fill="#6a42cc"/>
<line x1="467" y1="304.5" x2="449.3" y2="304.6" stroke="#6a42cc" stroke-width="1.3"/>
<path d="M449.3 304.6 L451.99 303.28 L452.01 305.89Z" fill="#6a42cc"/>
<line x1="473.3" y1="315.5" x2="454.6" y2="319.6" stroke="#6a42cc" stroke-width="1.3"/>
<path d="M454.6 319.6 L456.96 317.75 L457.52 320.3Z" fill="#6a42cc"/>
<path d="M41.03 562.39 L41.06 564.05 L41.11 565.71 L41.19 567.36 L41.29 569.01 L41.4 570.65 L41.54 572.3 L41.7 573.94 L41.87 575.57 L42.06 577.21 L42.26 578.84 L42.48 580.47 L42.7 582.1 L42.94 583.72 L43.19 585.35 L43.45 586.97 L43.72 588.59 L43.99 590.21 L44.27 591.83 L44.56 593.45 L44.84 595.07 L45.13 596.69 L45.42 598.31 L45.71 599.93 L46 601.55 L46.29 603.17 L46.57 604.79 L46.85 606.41 L47.13 608.04 L47.39 609.66 L47.66 611.29 L47.91 612.92 L48.17 614.55 L48.42 616.18 L48.67 617.81 L48.92 619.44 L49.17 621.07 L49.42 622.7 L49.67 624.33 L49.93 625.96 L50.2 627.59 L50.46 629.21 L50.74 630.84 L51.03 632.47 L51.32 634.09 L51.62 635.71 L51.94 637.34 L52.26 638.95 L52.6 640.57 L52.96 642.18 L53.33 643.8 L53.71 645.4 L54.11 647.01 L54.54 648.61 L54.98 650.21 L55.44 651.8 L55.92 653.39 L56.43 654.97 L56.96 656.53 L57.52 658.09 L58.1 659.63 L58.71 661.16 L59.35 662.67 L60.02 664.16 L60.72 665.63 L61.46 667.08 L62.23 668.51 L63.03 669.92 L63.87 671.3 L64.75 672.65 L65.66 673.97 L66.62 675.27 L67.62 676.53 L68.66 677.75 L69.74 678.94 L70.87 680.1 L72.04 681.22 L73.26 682.29 L74.53 683.33 L75.85 684.32 L77.21 685.28 L78.61 686.2 L80.03 687.09 L81.48 687.96 L82.94 688.81 L84.42 689.65 L85.89 690.49 L87.36 691.31 L88.82 692.14 L90.29 692.95 L91.75 693.76 L93.2 694.56 L94.66 695.35 L96.12 696.12 L97.58 696.88 L99.05 697.61 L100.51 698.33 L101.98 699.03 L103.45 699.72 L104.93 700.39 L106.41 701.05 L107.9 701.69 L109.39 702.33 L110.89 702.95 L112.4 703.57 L113.9 704.18 L115.42 704.79 L116.94 705.38 L118.46 705.97 L119.99 706.55 L121.52 707.12 L123.05 707.69 L124.59 708.25 L126.14 708.8 L127.68 709.35 L129.24 709.89 L130.79 710.43 L132.35 710.96 L133.91 711.49 L135.47 712.01 L137.03 712.52 L138.6 713.04 L140.17 713.54 L141.74 714.05 L143.32 714.55 L144.89 715.04 L146.47 715.54 L148.05 716.03 L149.63 716.52 L151.21 717 L152.79 717.48 L154.37 717.96 L155.95 718.44 L157.53 718.92 L159.12 719.39 L160.7 719.87 L162.28 720.34 L163.86 720.81 L165.45 721.28 L167.03 721.75 L168.61 722.21 L170.19 722.67 L171.78 723.13 L173.36 723.59 L174.94 724.04 L176.53 724.49 L178.11 724.94 L179.7 725.38 L181.28 725.81 L182.87 726.25 L184.46 726.67 L186.05 727.09 L187.64 727.51 L189.23 727.92 L190.82 728.32 L192.41 728.72 L194.01 729.11 L195.6 729.49 L197.2 729.87 L198.8 730.23 L200.4 730.59 L202 730.94 L203.6 731.29 L205.21 731.62 L206.82 731.94 L208.43 732.26 L210.04 732.56 L211.65 732.86 L213.27 733.14 L214.89 733.42 L216.51 733.68 L218.13 733.94 L219.75 734.19 L221.38 734.43 L223.01 734.66 L224.63 734.89 L226.26 735.11 L227.9 735.32 L229.53 735.52 L231.16 735.72 L232.8 735.92 L234.43 736.11 L236.07 736.29 L237.71 736.47 L239.35 736.64 L240.99 736.82 L242.63 736.98 L244.27 737.15 L245.91 737.31 L247.56 737.47 L249.2 737.63 L250.84 737.78 L252.48 737.94 L254.13 738.09 L255.77 738.25 L257.41 738.4 L259.06 738.56 L260.7 738.71 L262.34 738.87 L263.98 739.02 L265.63 739.18 L267.27 739.34 L268.91 739.51 L270.55 739.67 L272.19 739.84 L273.83 740.01 L275.46 740.19 L277.1 740.37 L278.74 740.56 L280.37 740.75 L282 740.94 L283.64 741.15 L285.27 741.35 L286.89 741.57 L288.52 741.79 L290.15 742.02 L291.77 742.25 L293.39 742.5 L295.01 742.75 L296.63 743.01 L298.25 743.28 L299.86 743.56 L301.48 743.85 L303.09 744.15" stroke="#111" stroke-width="1.5" fill="none" stroke-linejoin="round" stroke-linecap="round"/>
<path d="M41.12 736.34 L41.87 735.04 L42.65 733.76 L43.47 732.5 L44.32 731.26 L45.2 730.04 L46.1 728.84 L47.03 727.65 L47.97 726.47 L48.94 725.31 L49.92 724.16 L50.91 723.02 L51.91 721.89 L52.93 720.76 L53.95 719.65 L54.99 718.55 L56.04 717.46 L57.1 716.38 L58.16 715.32 L59.24 714.26 L60.33 713.21 L61.43 712.18 L62.55 711.16 L63.67 710.15 L64.8 709.15 L65.95 708.17 L67.1 707.2 L68.27 706.24 L69.44 705.3 L70.63 704.37 L71.83 703.45 L73.04 702.55 L74.26 701.66 L75.49 700.79 L76.73 699.93 L77.97 699.09 L79.23 698.26 L80.5 697.43 L81.77 696.62 L83.04 695.81 L84.32 695.01 L85.6 694.21 L86.89 693.41 L88.17 692.62 L89.46 691.82 L90.74 691.03 L92.02 690.23 L93.3 689.43 L94.58 688.63 L95.86 687.84 L97.15 687.06 L98.44 686.29 L99.74 685.53 L101.05 684.79 L102.37 684.07 L103.7 683.37 L105.03 682.67 L106.37 682 L107.72 681.33 L109.08 680.68 L110.44 680.04 L111.8 679.4 L113.17 678.78 L114.55 678.16 L115.93 677.55 L117.31 676.94 L118.69 676.34 L120.08 675.74 L121.46 675.14 L122.85 674.55 L124.24 673.95 L125.63 673.36 L127.02 672.76 L128.41 672.17 L129.8 671.57 L131.18 670.96 L132.57 670.36 L133.95 669.75 L135.33 669.13 L136.7 668.5 L138.07 667.87 L139.44 667.23 L140.8 666.58 L142.16 665.92 L143.51 665.25 L144.85 664.57 L146.19 663.88 L147.52 663.17 L148.85 662.46 L150.17 661.73 L151.48 660.99 L152.79 660.24 L154.1 659.49 L155.39 658.72 L156.69 657.94 L157.98 657.16 L159.26 656.37 L160.54 655.57 L161.81 654.76 L163.08 653.94 L164.35 653.11 L165.61 652.28 L166.87 651.44 L168.12 650.6 L169.37 649.75 L170.62 648.89 L171.86 648.03 L173.1 647.16 L174.33 646.29 L175.56 645.41 L176.78 644.52 L178 643.62 L179.2 642.71 L180.39 641.79 L181.57 640.85 L182.74 639.9 L183.88 638.92 L185.01 637.93 L186.12 636.92 L187.21 635.89 L188.28 634.83 L189.32 633.75 L190.33 632.64 L191.32 631.5 L192.27 630.33 L193.2 629.13 L194.08 627.9 L194.93 626.62" stroke="#111" stroke-width="1.5" fill="none" stroke-linejoin="round" stroke-linecap="round"/>
<path d="M40.34 740.34 L41.22 738.78 L42.2 737.3 L43.25 735.91 L44.37 734.58 L45.54 733.31 L46.77 732.09 L48.04 730.92 L49.35 729.77 L50.68 728.66 L52.03 727.55 L53.38 726.46 L54.74 725.36 L56.09 724.26 L57.44 723.15 L58.78 722.03 L60.11 720.91 L61.44 719.78 L62.77 718.64 L64.09 717.5 L65.4 716.35 L66.71 715.2 L68.02 714.04 L69.32 712.87 L70.62 711.71 L71.92 710.53 L73.21 709.36 L74.5 708.18 L75.79 707 L77.07 705.81 L78.35 704.62 L79.63 703.43 L80.9 702.24 L82.17 701.05 L83.45 699.85 L84.72 698.66 L85.99 697.46 L87.26 696.27 L88.53 695.07 L89.8 693.88 L91.07 692.69 L92.35 691.5 L93.62 690.31 L94.9 689.13 L96.18 687.95 L97.47 686.77 L98.75 685.6 L100.05 684.44 L101.34 683.28 L102.64 682.12 L103.95 680.97 L105.26 679.83 L106.58 678.7 L107.9 677.57 L109.23 676.45 L110.57 675.34 L111.91 674.24 L113.27 673.15 L114.63 672.07 L116 671 L117.38 669.94 L118.77 668.89 L120.16 667.85 L121.57 666.82 L122.98 665.8 L124.4 664.79 L125.83 663.79 L127.26 662.8 L128.7 661.82 L130.15 660.85 L131.61 659.89 L133.07 658.93 L134.54 657.99 L136.02 657.05 L137.5 656.12 L138.98 655.2 L140.48 654.29 L141.97 653.38 L143.48 652.49 L144.99 651.6 L146.5 650.72 L148.02 649.85 L149.54 648.98 L151.07 648.12 L152.6 647.27 L154.13 646.42 L155.67 645.58 L157.21 644.75 L158.76 643.93 L160.31 643.11 L161.86 642.29 L163.41 641.49 L164.97 640.68 L166.52 639.89 L168.08 639.1 L169.65 638.31 L171.21 637.53 L172.78 636.76 L174.34 635.99 L175.91 635.22 L177.48 634.46 L179.05 633.71 L180.62 632.96 L182.19 632.21 L183.76 631.46 L185.33 630.72 L186.9 629.99 L188.47 629.26 L190.04 628.53 L191.6 627.8 L193.17 627.08 L194.74 626.36" stroke="#e070e0" stroke-width="1.4" fill="none" stroke-linejoin="round" stroke-linecap="round"/>
<path d="M40.1 740.09 L41.27 738.82 L42.45 737.55 L43.65 736.31 L44.86 735.07 L46.08 733.85 L47.32 732.65 L48.57 731.45 L49.83 730.26 L51.1 729.09 L52.38 727.92 L53.66 726.76 L54.96 725.61 L56.26 724.46 L57.57 723.32 L58.88 722.19 L60.2 721.06 L61.52 719.93 L62.85 718.8 L64.18 717.68 L65.5 716.56 L66.83 715.43 L68.16 714.31 L69.49 713.18 L70.82 712.05 L72.14 710.92 L73.47 709.79 L74.78 708.65 L76.1 707.5 L77.4 706.35 L78.7 705.19 L80 704.02 L81.29 702.84 L82.57 701.66 L83.85 700.48 L85.13 699.29 L86.4 698.1 L87.67 696.9 L88.94 695.7 L90.21 694.51 L91.48 693.31 L92.75 692.12 L94.02 690.92 L95.29 689.73 L96.57 688.55 L97.84 687.36 L99.13 686.19 L100.41 685.02 L101.7 683.85 L103 682.7 L104.31 681.55 L105.62 680.41 L106.94 679.28 L108.26 678.17 L109.6 677.07 L110.95 675.98 L112.31 674.9 L113.67 673.84 L115.06 672.79 L116.45 671.76 L117.85 670.75 L119.27 669.75 L120.7 668.76 L122.14 667.79 L123.59 666.83 L125.04 665.89 L126.51 664.95 L127.99 664.03 L129.47 663.11 L130.96 662.21 L132.45 661.32 L133.96 660.43 L135.47 659.55 L136.98 658.68 L138.5 657.82 L140.02 656.96 L141.55 656.11 L143.07 655.26 L144.61 654.41 L146.14 653.57 L147.67 652.73 L149.21 651.89 L150.75 651.06 L152.28 650.22 L153.82 649.39 L155.35 648.55 L156.88 647.71 L158.41 646.88 L159.94 646.03 L161.47 645.19 L162.99 644.34 L164.51 643.5 L166.03 642.65 L167.55 641.8 L169.06 640.95 L170.58 640.1 L172.09 639.25 L173.61 638.4 L175.12 637.55 L176.64 636.7 L178.16 635.85 L179.67 635 L181.19 634.16 L182.71 633.32 L184.23 632.48 L185.75 631.64 L187.28 630.8 L188.8 629.97 L190.33 629.14 L191.86 628.32 L193.4 627.5 L194.94 626.69" stroke="#7f1fff" stroke-width="1.4" fill="none" stroke-linejoin="round" stroke-linecap="round"/>
<path d="M41.65 626.07 L41.46 627.86 L41.3 629.64 L41.18 631.42 L41.09 633.19 L41.05 634.96 L41.04 636.72 L41.06 638.48 L41.12 640.24 L41.22 641.98 L41.35 643.73 L41.52 645.46 L41.72 647.19 L41.95 648.91 L42.22 650.62 L42.51 652.32 L42.85 654.02 L43.21 655.7 L43.61 657.38 L44.03 659.05 L44.49 660.7 L44.98 662.35 L45.5 663.99 L46.05 665.61 L46.63 667.22 L47.23 668.83 L47.87 670.42 L48.53 671.99 L49.23 673.56 L49.95 675.11 L50.7 676.65 L51.47 678.17 L52.27 679.68 L53.1 681.17 L53.95 682.65 L54.83 684.12 L55.73 685.57 L56.66 687 L57.61 688.41 L58.59 689.81 L59.59 691.2 L60.61 692.56 L61.66 693.91 L62.72 695.24 L63.81 696.55 L64.92 697.84 L66.06 699.11 L67.21 700.36 L68.38 701.6 L69.58 702.81 L70.79 704 L72.02 705.17 L73.28 706.32 L74.55 707.45 L75.84 708.55 L77.14 709.63 L78.47 710.69 L79.81 711.73 L81.16 712.74 L82.54 713.73 L83.93 714.7 L85.34 715.64 L86.76 716.56 L88.19 717.45 L89.64 718.32 L91.11 719.17 L92.58 719.99 L94.08 720.8 L95.58 721.58 L97.1 722.34 L98.63 723.08 L100.17 723.8 L101.72 724.5 L103.28 725.18 L104.86 725.85 L106.44 726.49 L108.04 727.12 L109.64 727.72 L111.25 728.31 L112.88 728.89 L114.51 729.44 L116.14 729.98 L117.79 730.51 L119.44 731.01 L121.1 731.51 L122.77 731.99 L124.44 732.45 L126.12 732.9 L127.81 733.34 L129.5 733.76 L131.19 734.17 L132.89 734.57 L134.59 734.96 L136.3 735.33 L138.01 735.7 L139.72 736.05 L141.43 736.4 L143.15 736.73 L144.87 737.05 L146.59 737.37 L148.31 737.67 L150.03 737.97 L151.75 738.26 L153.47 738.54 L155.19 738.82 L156.91 739.09 L158.62 739.35 L160.34 739.61 L162.05 739.86 L163.76 740.1 L165.47 740.34 L167.18 740.58 L168.88 740.81 L170.58 741.04 L172.27 741.27 L173.96 741.49 L175.64 741.71 L177.32 741.93 L178.99 742.15 L180.66 742.36 L182.31 742.58 L183.97 742.79 L185.61 743.01 L187.25 743.22 L188.88 743.44 L190.5 743.66 L192.11 743.87 L193.71 744.1" stroke="#e070e0" stroke-width="1.4" fill="none" stroke-linejoin="round" stroke-linecap="round"/>
<path d="M41.58 626.05 L41.39 627.84 L41.24 629.62 L41.12 631.39 L41.05 633.17 L41.01 634.93 L41 636.69 L41.04 638.45 L41.11 640.2 L41.21 641.94 L41.35 643.68 L41.52 645.4 L41.73 647.13 L41.97 648.84 L42.25 650.54 L42.55 652.24 L42.9 653.93 L43.27 655.61 L43.67 657.27 L44.11 658.93 L44.58 660.58 L45.07 662.22 L45.6 663.85 L46.16 665.46 L46.75 667.06 L47.37 668.66 L48.01 670.24 L48.68 671.8 L49.39 673.36 L50.12 674.9 L50.87 676.42 L51.66 677.94 L52.47 679.43 L53.3 680.92 L54.16 682.39 L55.05 683.84 L55.96 685.28 L56.9 686.7 L57.86 688.1 L58.84 689.49 L59.85 690.86 L60.88 692.21 L61.93 693.55 L63.01 694.86 L64.11 696.16 L65.23 697.44 L66.36 698.7 L67.52 699.94 L68.7 701.16 L69.9 702.36 L71.12 703.54 L72.36 704.7 L73.62 705.84 L74.89 706.96 L76.19 708.05 L77.5 709.12 L78.83 710.17 L80.17 711.2 L81.53 712.2 L82.91 713.18 L84.3 714.13 L85.71 715.06 L87.13 715.97 L88.57 716.86 L90.02 717.72 L91.48 718.56 L92.96 719.38 L94.45 720.17 L95.96 720.95 L97.47 721.7 L99 722.44 L100.54 723.15 L102.09 723.85 L103.65 724.52 L105.22 725.18 L106.8 725.82 L108.39 726.44 L109.99 727.05 L111.6 727.64 L113.22 728.21 L114.85 728.76 L116.48 729.3 L118.12 729.82 L119.77 730.33 L121.43 730.83 L123.09 731.31 L124.76 731.77 L126.43 732.23 L128.11 732.67 L129.79 733.1 L131.48 733.51 L133.17 733.91 L134.86 734.31 L136.56 734.69 L138.27 735.06 L139.97 735.42 L141.68 735.77 L143.39 736.11 L145.1 736.45 L146.81 736.77 L148.52 737.09 L150.23 737.4 L151.95 737.7 L153.66 737.99 L155.37 738.28 L157.08 738.56 L158.79 738.84 L160.5 739.11 L162.21 739.38 L163.91 739.64 L165.61 739.89 L167.31 740.15 L169 740.4 L170.69 740.65 L172.37 740.89 L174.06 741.14 L175.73 741.38 L177.4 741.62 L179.06 741.86 L180.72 742.1 L182.37 742.34 L184.02 742.58 L185.66 742.82 L187.29 743.06 L188.91 743.3 L190.52 743.55 L192.12 743.8 L193.72 744.05" stroke="#7f1fff" stroke-width="1.4" fill="none" stroke-linejoin="round" stroke-linecap="round"/>
<text transform="translate(158.36 632.96) scale(1.1986 1)" font-family="'Liberation Serif', serif" font-size="7.164" font-weight="bold" font-style="normal" fill="#000">50</text>
<text transform="translate(195.88 644.6) scale(0.8919 1)" font-family="'Liberation Serif', serif" font-size="7.273" font-weight="bold" font-style="normal" fill="#000">1</text>
<text transform="translate(175.27 656.23) scale(1.1359 1)" font-family="'Liberation Serif', serif" font-size="7.273" font-weight="bold" font-style="normal" fill="#000">25</text>
<line x1="168" y1="632.3" x2="175.6" y2="635.2" stroke="#6a42cc" stroke-width="1.3"/>
<path d="M175.6 635.2 L172.61 635.46 L173.54 633.02Z" fill="#6a42cc"/>
<line x1="194.3" y1="641.6" x2="189" y2="636.4" stroke="#6a42cc" stroke-width="1.3"/>
<path d="M189 636.4 L191.84 637.36 L190.01 639.22Z" fill="#6a42cc"/>
<line x1="172.7" y1="653.9" x2="164.5" y2="647.4" stroke="#6a42cc" stroke-width="1.3"/>
<path d="M164.5 647.4 L167.43 648.06 L165.81 650.1Z" fill="#6a42cc"/>
<path d="M394.5 573.5 L397 571.5 L401.3 569.4 L410.1 567.5 L427.6 565.6 L450 564.1 L493.8 561.9 L515.7 559.7 L537.6 556.4 L561.7 554.9 L565 555.5 L569.3 560.8 L575 558 L577.5 557.3 L590 558 L600 559.3 L603.5 557.1 L609.9 558.6 L624.7 560.5 L630 560.8 L650 561.3 L665 561.6 L676.5 561.8" stroke="#dd44dd" stroke-width="1.2" fill="none" stroke-linejoin="round" stroke-linecap="round"/>
<path d="M394.5 573.5 L397 571.3 L401.3 569.4 L410.1 567.7 L427.6 565.9 L450 564.5 L515.7 561.9 L537.6 559.7 L563.9 557.5 L567 558.5 L570.4 560.8 L577.5 559.9 L603.8 559.9 L630 561.6 L665 562.2 L676.5 562.5" stroke="#4040c8" stroke-width="1.2" fill="none" stroke-linejoin="round" stroke-linecap="round"/>
<path d="M394.5 573.8 L398 571.5 L401.3 570 L410.1 568.5 L427.6 566.8 L450 565.8 L515.7 565.2 L548.5 563 L577.5 562.5 L603.8 562.5 L630 563.4 L665 564.3 L676.5 564.5" stroke="#44cc44" stroke-width="1.2" fill="none" stroke-linejoin="round" stroke-linecap="round"/>
<path d="M394.5 574 L398 572 L401.3 570.5 L410.1 569 L427.6 567.5 L450 566.7 L515.7 566.3 L559.5 564.1 L577.5 562.5 L603.8 561.6 L630 562.5 L665 563.9 L676.5 564.3" stroke="#222" stroke-width="1.2" fill="none" stroke-linejoin="round" stroke-linecap="round" stroke-opacity="0.75"/>
<path d="M395.3 646 C395.78 644.2 397 638.87 398.2 635.2 C399.4 631.53 400.93 627.55 402.5 624 C404.07 620.45 405.92 616.73 407.6 613.9 C409.28 611.07 410.93 609.18 412.6 607 C414.27 604.82 415.52 602.57 417.6 600.8 C419.68 599.03 422.8 597.55 425.1 596.4 C427.4 595.25 429.32 594.85 431.4 593.9 C433.48 592.95 435.1 591.65 437.6 590.7 C440.1 589.75 442.83 589.13 446.4 588.2 C449.97 587.27 455.07 586.03 459 585.1 C462.93 584.17 466.03 583.42 470 582.6 C473.97 581.78 475.18 581.02 482.8 580.2 C490.42 579.38 504.75 578.3 515.7 577.7 C526.65 577.1 534.45 577.05 548.5 576.6 C562.55 576.15 584.75 575.38 600 575 C615.25 574.62 627.42 574.5 640 574.3 C652.58 574.1 669.58 573.88 675.5 573.8" stroke="#222" stroke-width="1.2" fill="none" stroke-linejoin="round" stroke-linecap="round"/>
<path d="M394.5 648 C395.22 646.5 397.25 642.38 398.8 639 C400.35 635.62 402.13 631.47 403.8 627.7 C405.47 623.93 406.92 619.75 408.8 616.4 C410.68 613.05 412.8 610.1 415.1 607.6 C417.4 605.1 420.1 603.07 422.6 601.4 C425.1 599.73 427.17 598.97 430.1 597.6 C433.03 596.23 436.43 594.67 440.2 593.2 C443.97 591.73 447.73 590.37 452.7 588.8 C457.67 587.23 464.98 585.05 470 583.8 C475.02 582.55 475.18 582.18 482.8 581.3 C490.42 580.42 504.75 579.22 515.7 578.5 C526.65 577.78 534.45 577.55 548.5 577 C562.55 576.45 584.75 575.63 600 575.2 C615.25 574.77 627.42 574.62 640 574.4 C652.58 574.18 669.58 573.98 675.5 573.9" stroke="#44cc44" stroke-width="1.2" fill="none" stroke-linejoin="round" stroke-linecap="round"/>
<path d="M394.3 650 L395.5 628 L397 641 L398.5 646" stroke="#44cc44" stroke-width="1.2" fill="none" stroke-linejoin="round" stroke-linecap="round"/>
<path d="M394.3 640 L395.7 631 L397.2 644" stroke="#222" stroke-width="1" fill="none" stroke-linejoin="round" stroke-linecap="round"/>
<path d="M394.1 685.5 L396.9 678.9 L398.8 662 L400.7 648.8 L402.6 635.6 L404.4 652.6 L406.3 648.8 L410.1 637.5 L412.9 630 L417.1 617.6 L422.3 610.6 L427.6 609.7 L430.2 605.3 L438.1 599.2 L448.6 594.8 L461 588.2 L482.8 582.7 L515.7 579.4 L548.5 577.2 L600 575.2 L654.6 574.4" stroke="#4040c8" stroke-width="1.2" fill="none" stroke-linejoin="round" stroke-linecap="round"/>
<path d="M600 575 L640 574.3 L675.5 573.8" stroke="#777" stroke-width="1.2" fill="none" stroke-linejoin="round" stroke-linecap="round"/>
<path d="M394.1 717.4 L396.9 716.5 L398.2 710.8 L398.8 658.2 L399.7 673.2 L401.1 692 L402.2 716.5 L403.5 705.2 L405.4 696.7 L406.3 699.5 L408.2 746.5 L409.1 693.9 L410.1 673.2 L412 644.1 L412.9 658.2 L413.8 677 L414.8 720.2 L415.7 679.8 L416.7 652.6 L419.5 641.3 L423.2 630 L425.8 612.3 L427.6 610.6 L429.3 615.8 L432.9 610.6 L438.1 603.6 L448.6 596.6 L460 589.5 L482.8 582 L510 577.5 L526.6 576.1 L542 575 L553 573.5" stroke="#dd44dd" stroke-width="1.1" fill="none" stroke-linejoin="round" stroke-linecap="round"/>
<text transform="translate(407.06 591.46) scale(1.1986 1)" font-family="'Liberation Serif', serif" font-size="7.164" font-weight="bold" font-style="normal" fill="#000">50</text>
<text transform="translate(425.42 584.33) scale(1.3152 1)" font-family="'Liberation Serif', serif" font-size="7.273" font-weight="bold" font-style="normal" fill="#000">25</text>
<text transform="translate(443.08 612.1) scale(0.8919 1)" font-family="'Liberation Serif', serif" font-size="7.273" font-weight="bold" font-style="normal" fill="#000">1</text>
<text transform="translate(429.97 626.03) scale(0.7857 1)" font-family="'Liberation Serif', serif" font-size="7.273" font-weight="bold" font-style="normal" fill="#000">2</text>
<line x1="415.3" y1="593.1" x2="419.7" y2="599.2" stroke="#6a42cc" stroke-width="1.3"/>
<path d="M419.7 599.2 L417.06 597.77 L419.18 596.25Z" fill="#6a42cc"/>
<line x1="434.6" y1="585.2" x2="439" y2="592.2" stroke="#6a42cc" stroke-width="1.3"/>
<path d="M439 592.2 L436.46 590.61 L438.67 589.22Z" fill="#6a42cc"/>
<line x1="442.5" y1="607.1" x2="437.2" y2="603.6" stroke="#6a42cc" stroke-width="1.3"/>
<path d="M437.2 603.6 L440.17 604 L438.74 606.18Z" fill="#6a42cc"/>
<line x1="428.5" y1="619.3" x2="424.1" y2="615" stroke="#6a42cc" stroke-width="1.3"/>
<path d="M424.1 615 L426.94 615.95 L425.12 617.82Z" fill="#6a42cc"/>
</svg>
</body></html>
